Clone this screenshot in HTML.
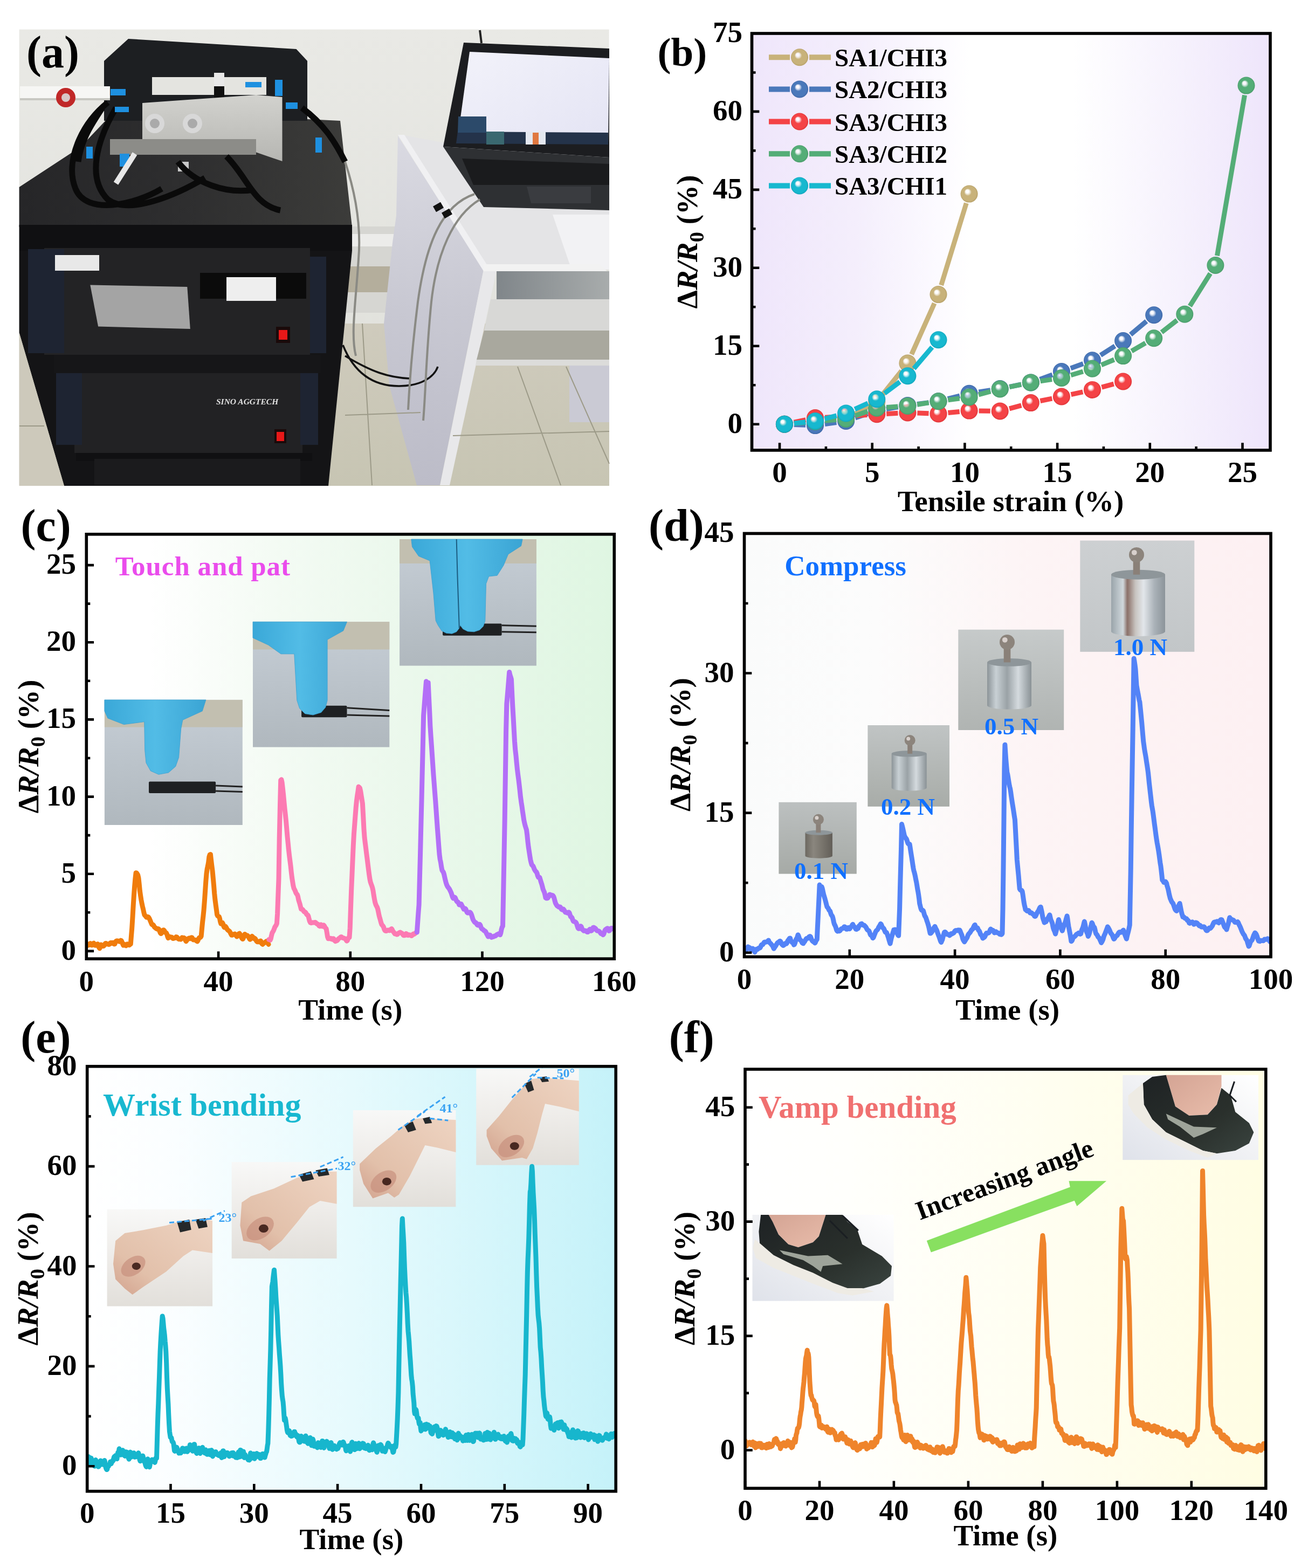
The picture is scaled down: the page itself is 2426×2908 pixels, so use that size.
<!DOCTYPE html>
<html><head><meta charset="utf-8"><title>Figure</title>
<style>
html,body{margin:0;padding:0;background:#fff;}
svg{display:block;}
text{font-family:'Liberation Serif','Times New Roman',serif;font-weight:bold;}
</style></head>
<body>
<svg width="2426" height="2908" viewBox="0 0 2426 2908">
<defs><linearGradient id="bgB" x1="0" y1="0" x2="1" y2="0"><stop offset="0" stop-color="#efe6fb"/><stop offset="0.2" stop-color="#f4eefc"/><stop offset="0.36" stop-color="#fcfaff"/><stop offset="0.42" stop-color="#ffffff"/><stop offset="0.62" stop-color="#ffffff"/><stop offset="0.8" stop-color="#f7f3fd"/><stop offset="1" stop-color="#eee5fb"/></linearGradient>
<radialGradient id="sph0" cx="0.5" cy="0.5" r="0.5" fx="0.37" fy="0.33"><stop offset="0" stop-color="#ffffff" stop-opacity="0.95"/><stop offset="0.16" stop-color="#ffffff" stop-opacity="0.6"/><stop offset="0.42" stop-color="#c8b27a"/><stop offset="0.85" stop-color="#c8b27a"/><stop offset="1" stop-color="#b8a26a"/></radialGradient>
<radialGradient id="sph1" cx="0.5" cy="0.5" r="0.5" fx="0.37" fy="0.33"><stop offset="0" stop-color="#ffffff" stop-opacity="0.95"/><stop offset="0.16" stop-color="#ffffff" stop-opacity="0.6"/><stop offset="0.42" stop-color="#4a78ba"/><stop offset="0.85" stop-color="#4a78ba"/><stop offset="1" stop-color="#4068a8"/></radialGradient>
<radialGradient id="sph2" cx="0.5" cy="0.5" r="0.5" fx="0.37" fy="0.33"><stop offset="0" stop-color="#ffffff" stop-opacity="0.95"/><stop offset="0.16" stop-color="#ffffff" stop-opacity="0.6"/><stop offset="0.42" stop-color="#f44346"/><stop offset="0.85" stop-color="#f44346"/><stop offset="1" stop-color="#e03438"/></radialGradient>
<radialGradient id="sph3" cx="0.5" cy="0.5" r="0.5" fx="0.37" fy="0.33"><stop offset="0" stop-color="#ffffff" stop-opacity="0.95"/><stop offset="0.16" stop-color="#ffffff" stop-opacity="0.6"/><stop offset="0.42" stop-color="#54ad77"/><stop offset="0.85" stop-color="#54ad77"/><stop offset="1" stop-color="#4a9c6a"/></radialGradient>
<radialGradient id="sph4" cx="0.5" cy="0.5" r="0.5" fx="0.37" fy="0.33"><stop offset="0" stop-color="#ffffff" stop-opacity="0.95"/><stop offset="0.16" stop-color="#ffffff" stop-opacity="0.6"/><stop offset="0.42" stop-color="#17b8cf"/><stop offset="0.85" stop-color="#17b8cf"/><stop offset="1" stop-color="#12a6bc"/></radialGradient>
<linearGradient id="bgC" x1="0" y1="0" x2="1" y2="0"><stop offset="0" stop-color="#ffffff"/><stop offset="0.12" stop-color="#ffffff"/><stop offset="0.35" stop-color="#f4fbf4"/><stop offset="0.6" stop-color="#ebf8ec"/><stop offset="1" stop-color="#dff6e2"/></linearGradient>
<linearGradient id="tbl" x1="0" y1="0" x2="0" y2="1"><stop offset="0" stop-color="#c6ced6"/><stop offset="1" stop-color="#b0b8be"/></linearGradient>
<linearGradient id="glove" x1="0" y1="0" x2="1" y2="0"><stop offset="0" stop-color="#3aa8d8"/><stop offset="0.5" stop-color="#52bce6"/><stop offset="1" stop-color="#3aa4d4"/></linearGradient>
<clipPath id="clp1"><rect x="160.3" y="990.8" width="979" height="787.4"/></clipPath>
<clipPath id="clp2"><rect x="160.3" y="990.8" width="979" height="787.4"/></clipPath>
<clipPath id="clp3"><rect x="160.3" y="990.8" width="979" height="787.4"/></clipPath>
<linearGradient id="bgD" x1="0" y1="0" x2="1" y2="0"><stop offset="0" stop-color="#fafbfb"/><stop offset="0.25" stop-color="#fcfcfc"/><stop offset="0.55" stop-color="#fdf4f5"/><stop offset="1" stop-color="#fdf0f2"/></linearGradient>
<linearGradient id="wbg1" x1="0" y1="0" x2="0" y2="1"><stop offset="0" stop-color="#bcc0c0"/><stop offset="1" stop-color="#a6aaa6"/></linearGradient>
<linearGradient id="wbg2" x1="0" y1="0" x2="0" y2="1"><stop offset="0" stop-color="#c0c4c4"/><stop offset="1" stop-color="#a8aca8"/></linearGradient>
<linearGradient id="wbg3" x1="0" y1="0" x2="0" y2="1"><stop offset="0" stop-color="#c6caca"/><stop offset="1" stop-color="#b0b4b2"/></linearGradient>
<linearGradient id="wbg4" x1="0" y1="0" x2="0" y2="1"><stop offset="0" stop-color="#cdd0d2"/><stop offset="1" stop-color="#c2c6c8"/></linearGradient>
<linearGradient id="silver" x1="0" y1="0" x2="1" y2="0"><stop offset="0" stop-color="#8c9498"/><stop offset="0.2" stop-color="#c8d0d4"/><stop offset="0.45" stop-color="#9aa2a6"/><stop offset="0.7" stop-color="#d4dade"/><stop offset="1" stop-color="#8a9296"/></linearGradient>
<linearGradient id="rough" x1="0" y1="0" x2="1" y2="0"><stop offset="0" stop-color="#6c6860"/><stop offset="0.3" stop-color="#8a867e"/><stop offset="0.6" stop-color="#7a766e"/><stop offset="1" stop-color="#625e58"/></linearGradient>
<linearGradient id="shiny" x1="0" y1="0" x2="1" y2="0"><stop offset="0" stop-color="#9aa4aa"/><stop offset="0.22" stop-color="#d0d8dc"/><stop offset="0.3" stop-color="#8a7068"/><stop offset="0.45" stop-color="#c8c4c0"/><stop offset="0.6" stop-color="#e2e6ea"/><stop offset="0.8" stop-color="#aab2b8"/><stop offset="1" stop-color="#8c949a"/></linearGradient>
<clipPath id="clp4"><rect x="1380.5" y="989.4" width="976.5" height="785.1"/></clipPath>
<linearGradient id="bgE" x1="0" y1="0" x2="1" y2="0"><stop offset="0" stop-color="#ffffff"/><stop offset="0.15" stop-color="#fbfeff"/><stop offset="0.5" stop-color="#e6fafd"/><stop offset="1" stop-color="#c5f2f9"/></linearGradient>
<linearGradient id="hbg" x1="0" y1="0" x2="0" y2="1"><stop offset="0" stop-color="#f8f8f7"/><stop offset="0.5" stop-color="#eeece9"/><stop offset="1" stop-color="#e2dfda"/></linearGradient>
<linearGradient id="skin" x1="0" y1="1" x2="1" y2="0"><stop offset="0" stop-color="#d2a28e"/><stop offset="0.3" stop-color="#e2c0aa"/><stop offset="1" stop-color="#eed4c2"/></linearGradient>
<clipPath id="clp5"><rect x="161.7" y="1977.7" width="980.5" height="788"/></clipPath>
<linearGradient id="bgF" x1="0" y1="0" x2="1" y2="0"><stop offset="0" stop-color="#ffffff"/><stop offset="0.2" stop-color="#fffffc"/><stop offset="1" stop-color="#fffde3"/></linearGradient>
<linearGradient id="sbg" x1="0" y1="1" x2="1" y2="0"><stop offset="0" stop-color="#dfe2ea"/><stop offset="0.5" stop-color="#f0f1f4"/><stop offset="1" stop-color="#ffffff"/></linearGradient>
<linearGradient id="shoe" x1="0" y1="0" x2="1" y2="1"><stop offset="0" stop-color="#1e2224"/><stop offset="0.6" stop-color="#2a302c"/><stop offset="1" stop-color="#3a4440"/></linearGradient>
<linearGradient id="skin2" x1="0" y1="0" x2="1" y2="1"><stop offset="0" stop-color="#d4a494"/><stop offset="1" stop-color="#e8bcaa"/></linearGradient>
<clipPath id="clp6"><rect x="1382" y="1983" width="965.8" height="777.2"/></clipPath>
<linearGradient id="wall" x1="0" y1="0" x2="0" y2="1"><stop offset="0" stop-color="#e9e9e5"/><stop offset="1" stop-color="#dedfd9"/></linearGradient>
<linearGradient id="floor" x1="0" y1="0" x2="0" y2="1"><stop offset="0" stop-color="#cfcbbd"/><stop offset="1" stop-color="#c7c5b3"/></linearGradient>
<linearGradient id="deskside" x1="0" y1="0" x2="0" y2="1"><stop offset="0" stop-color="#dadae2"/><stop offset="0.5" stop-color="#c8c8d2"/><stop offset="1" stop-color="#bcbcc8"/></linearGradient>
<linearGradient id="screen" x1="0" y1="0" x2="1" y2="1"><stop offset="0" stop-color="#f2f2fa"/><stop offset="1" stop-color="#e4e4f4"/></linearGradient>
<linearGradient id="drawer" x1="0" y1="0" x2="1" y2="0"><stop offset="0" stop-color="#80868a"/><stop offset="1" stop-color="#a8acac"/></linearGradient>
<linearGradient id="plate" x1="0" y1="0" x2="0" y2="1"><stop offset="0" stop-color="#d2d2ce"/><stop offset="1" stop-color="#b6b6b2"/></linearGradient>
<linearGradient id="ctop" x1="0" y1="0" x2="1" y2="0"><stop offset="0" stop-color="#262628"/><stop offset="0.5" stop-color="#2e2e2f"/><stop offset="1" stop-color="#3c3c3a"/></linearGradient></defs>
<rect width="2426" height="2908" fill="#fff"/>
<rect x="35.6" y="54.6" width="1094" height="845.9" fill="url(#wall)" />
<polygon points="36,600 1130,600 1130,901 36,901" fill="url(#floor)" />
<rect x="640" y="420" width="102" height="160" fill="#d6d6d2" />
<rect x="640" y="434" width="102" height="23" fill="#ececea" />
<rect x="640" y="494" width="102" height="48" fill="#b4ae9c" />
<polygon points="738,252 897,500 816,900 773,900 722,715 712,600 728,450 735,400" fill="url(#deskside)" />
<polygon points="897,500 921,502 834,900 816,900" fill="#e8e8ea" />
<polygon points="744,250 862,272 1130,282 1130,500 897,500" fill="#e4e4e6" />
<polygon points="738,250 750,250 905,494 897,503" fill="#f0f0f2" />
<polygon points="1025,398 1130,398 1130,500 1060,500" fill="#f2f2f4" />
<polygon points="897,490 1112,490 1126,503 897,503" fill="#f2f2f2" />
<rect x="921" y="503" width="209" height="52" fill="url(#drawer)" />
<polygon points="910,555 1130,555 1130,613 898,613" fill="#d8d8d6" />
<polygon points="898,613 1130,613 1130,667 884,667" fill="#a9a89e" />
<polygon points="884,667 1130,667 1130,678 882,678" fill="#dcdcda" />
<rect x="1056" y="678" width="74" height="105" fill="#cacad4" />
<path d="M36 790L120 785M640 770L780 765M840 808L1130 800M960 680L1040 900M1050 680L1130 860M672 600L690 900" stroke="#9c9a88" stroke-width="2" fill="none"/>
<polygon points="860,79 1130,90 1130,292 822,272" fill="#1c1d20" />
<polygon points="871,96 1130,108 1128,266 848,262" fill="url(#screen)" />
<polygon points="849,244 1128,246 1128,268 846,266" fill="#24334a" />
<polygon points="850,216 902,216 902,246 849,246" fill="#2c4a6a" />
<rect x="902" y="244" width="33" height="24" fill="#3a6870" />
<rect x="975" y="244" width="37" height="24" fill="#e4e8f0" />
<rect x="988" y="246" width="11" height="22" fill="#e07840" />
<polygon points="822,272 1130,292 1130,390 897,384" fill="#2e3033" />
<polygon points="857,294 1130,304 1130,343 878,343" fill="#1a1b1d" />
<polygon points="977,346 1096,346 1096,377 985,377" fill="#3a3c40" />
<path d="M890 56L893 80" stroke="#222" stroke-width="4"/>
<path d="M636 640C660 700 700 716 740 716C780 716 805 700 812 680M640 660C690 690 720 700 760 702" stroke="#121212" stroke-width="3.5" fill="none"/>
<path d="M880 360C820 380 790 450 775 560C765 640 760 700 757 760M890 370C840 400 810 470 800 560C790 660 790 720 785 780" stroke="#8a8a84" stroke-width="4" fill="none"/>
<path d="M820 380l-14 8M836 392l-14 8" stroke="#111" stroke-width="12"/>
<polygon points="35.6,347 150,272 203,216 570,221 631,224 653,421 35.6,421" fill="url(#ctop)" />
<polygon points="193,113 238,72 549.5,91 570,113 570,224 193,224" fill="#1d1f22" />
<rect x="282" y="143" width="212" height="33" fill="#e4e4e0" />
<rect x="397" y="135" width="19" height="67" fill="#101010" />
<rect x="397" y="135" width="19" height="25" fill="#e8e8e8" />
<polygon points="264,191 475,176 523.5,180 523.5,299 468,280 264,269" fill="url(#plate)" />
<polygon points="204,258 475,258 475,287 204,287" fill="#8c8c88" />
<circle cx="287" cy="229" r="18" fill="#d8d8d8"/><circle cx="357" cy="229" r="18" fill="#d8d8d8"/><circle cx="287" cy="229" r="9" fill="#aaa"/><circle cx="357" cy="229" r="9" fill="#aaa"/>
<rect x="330" y="300" width="20" height="18" fill="#c8c8c8" />
<path d="M200 190C150 230 120 300 140 350C160 400 250 380 300 350M215 200C180 260 160 330 200 370C240 400 330 360 380 330M420 290C460 330 470 380 520 390M560 200C600 230 620 260 640 300M190 200C170 230 150 260 145 300M330 300C360 340 420 360 470 352" stroke="#0a0a0a" stroke-width="11" fill="none"/>
<path d="M640 300C660 360 670 420 665 480C660 560 650 620 660 660" stroke="#8a8a84" stroke-width="4" fill="none"/>
<rect x="205" y="165" width="28" height="12" fill="#1e90e0" />
<rect x="213" y="198" width="26" height="10" fill="#1e90e0" />
<rect x="455" y="152" width="30" height="10" fill="#1e90e0" />
<rect x="510" y="148" width="14" height="30" fill="#1e90e0" />
<rect x="530" y="190" width="22" height="12" fill="#1e90e0" />
<rect x="222" y="285" width="18" height="24" fill="#1e90e0" />
<rect x="585" y="255" width="12" height="28" fill="#1e90e0" />
<rect x="160" y="272" width="12" height="22" fill="#1e90e0" />
<rect x="37" y="160" width="167" height="22" fill="#f6f6f4" />
<rect x="37" y="182" width="167" height="4" fill="#c8c8c2" />
<circle cx="122" cy="181" r="18" fill="#c02828"/><circle cx="122" cy="181" r="8" fill="#d8c8c8"/>
<path d="M250 285L215 340" stroke="#e8e8e8" stroke-width="10"/>
<polygon points="35.6,417 653,417 653,465 35.6,465" fill="#101012" />
<polygon points="35.6,465 653,465 609,901 119,901 35.6,617" fill="#141416" />
<rect x="82" y="460" width="493" height="198" fill="#232325" />
<rect x="52" y="462" width="67" height="193" fill="#1e2432" />
<rect x="575" y="476" width="30" height="179" fill="#1e2432" />
<polygon points="167.3,528.4 347.3,532.1 352.8,610 182.1,605.6" fill="#a4a4a4" />
<rect x="102" y="473" width="82" height="29" fill="#e8e8e8" />
<rect x="371" y="506" width="197" height="48" fill="#0b0b0b" />
<rect x="420" y="514" width="92" height="44" fill="#eeeeee" />
<rect x="512" y="606" width="26" height="30" fill="#1a0a0a" />
<rect x="517" y="612" width="16" height="18" fill="#e81818" />
<rect x="100.5" y="658" width="493.5" height="34" fill="#161618" />
<rect x="138" y="692" width="423" height="148" fill="#222224" />
<rect x="104" y="692" width="48" height="133" fill="#1e2432" />
<rect x="557" y="692" width="33" height="133" fill="#1e2432" />
<text x="401" y="750" font-size="15.5" font-style="italic" fill="#e0e0e0">SINO AGGTECH</text>
<rect x="509" y="796" width="22" height="26" fill="#1a0a0a" />
<rect x="513" y="801" width="14" height="17" fill="#e81818" />
<rect x="141" y="840" width="438" height="15" fill="#101012" />
<rect x="175" y="851" width="382" height="48" fill="#1b1b1d" />
<polygon points="35.6,617 119,901 35.6,901" fill="#cdc9bb" />
<path d="M36 790L82 790" stroke="#9c9a88" stroke-width="2"/>
<rect x="1394.5" y="62" width="961.5" height="773" fill="url(#bgB)"/>
<path d="M1472.9 785.2L1494.1 783.4M1530 780.3L1551.2 778.5M1584.9 768.2L1610.5 753.9M1637.5 731.1L1672.1 687.7M1690.7 657.2L1733.1 562.5M1745.7 528.9L1792.3 376.8" stroke="#c8b27a" stroke-width="9" fill="none" stroke-linecap="butt"/>
<circle cx="1454.9" cy="786.7" r="16" fill="url(#sph0)"/>
<circle cx="1512" cy="781.9" r="16" fill="url(#sph0)"/>
<circle cx="1569.1" cy="777" r="16" fill="url(#sph0)"/>
<circle cx="1626.3" cy="745.1" r="16" fill="url(#sph0)"/>
<circle cx="1683.4" cy="673.6" r="16" fill="url(#sph0)"/>
<circle cx="1740.5" cy="546.1" r="16" fill="url(#sph0)"/>
<circle cx="1797.6" cy="359.6" r="16" fill="url(#sph0)"/>
<path d="M1472.9 787.4L1494.1 788.3M1529.9 786.5L1551.3 783.5M1586.2 775.1L1609.2 767.3M1644 758.6L1665.6 754.9M1701.2 749.5L1722.6 746.6M1757.9 739.7L1780.1 734.1M1815.4 727L1836.9 723.7M1872.3 717.4L1894.1 713M1928.7 703.4L1951.9 695.1M1985.8 682.9L2009.1 674.5M2041.2 658.7L2067.9 641.7M2096.9 620.5L2126.4 595.8" stroke="#4a78ba" stroke-width="9" fill="none" stroke-linecap="butt"/>
<circle cx="1454.9" cy="786.7" r="16" fill="url(#sph1)"/>
<circle cx="1512" cy="789.1" r="16" fill="url(#sph1)"/>
<circle cx="1569.1" cy="780.9" r="16" fill="url(#sph1)"/>
<circle cx="1626.3" cy="761.6" r="16" fill="url(#sph1)"/>
<circle cx="1683.4" cy="751.9" r="16" fill="url(#sph1)"/>
<circle cx="1740.5" cy="744.2" r="16" fill="url(#sph1)"/>
<circle cx="1797.6" cy="729.7" r="16" fill="url(#sph1)"/>
<circle cx="1854.7" cy="721" r="16" fill="url(#sph1)"/>
<circle cx="1911.8" cy="709.4" r="16" fill="url(#sph1)"/>
<circle cx="1968.9" cy="689.1" r="16" fill="url(#sph1)"/>
<circle cx="2026" cy="668.3" r="16" fill="url(#sph1)"/>
<circle cx="2083.1" cy="632.1" r="16" fill="url(#sph1)"/>
<circle cx="2140.2" cy="584.3" r="16" fill="url(#sph1)"/>
<path d="M1472.6 783.1L1494.4 778.7M1530 774.2L1551.2 773.1M1587.1 771L1608.3 769.5M1644.2 767.4L1665.4 766.3M1701.4 766L1722.5 766.8M1758.4 765.5L1779.7 763.4M1815.6 761.9L1836.7 762.2M1872.1 757.8L1894.4 751.8M1929.4 743.5L1951.3 739.1M1986.5 731.6L2008.4 726.8M2043.4 718.2L2065.7 712.2" stroke="#f44346" stroke-width="9" fill="none" stroke-linecap="butt"/>
<circle cx="1454.9" cy="786.7" r="16" fill="url(#sph2)"/>
<circle cx="1512" cy="775.1" r="16" fill="url(#sph2)"/>
<circle cx="1569.1" cy="772.2" r="16" fill="url(#sph2)"/>
<circle cx="1626.3" cy="768.3" r="16" fill="url(#sph2)"/>
<circle cx="1683.4" cy="765.4" r="16" fill="url(#sph2)"/>
<circle cx="1740.5" cy="767.4" r="16" fill="url(#sph2)"/>
<circle cx="1797.6" cy="761.6" r="16" fill="url(#sph2)"/>
<circle cx="1854.7" cy="762.5" r="16" fill="url(#sph2)"/>
<circle cx="1911.8" cy="747.1" r="16" fill="url(#sph2)"/>
<circle cx="1968.9" cy="735.5" r="16" fill="url(#sph2)"/>
<circle cx="2026" cy="722.9" r="16" fill="url(#sph2)"/>
<circle cx="2083.1" cy="707.5" r="16" fill="url(#sph2)"/>
<path d="M1472.9 785.2L1494.1 783.4M1530 780.3L1551.2 778.5M1586.1 771L1609.3 762.8M1644.2 755.5L1665.4 754.1M1701.2 750.2L1722.7 746.9M1758.3 741.8L1779.7 738.9M1815 731.9L1837.3 726M1872.3 717.7L1894.2 713.1M1929.6 706.8L1951.1 703.6M1986.1 695.8L2008.8 689M2042.6 676.9L2066.5 667M2098.7 651.1L2124.6 636.2M2154.4 616.2L2183.1 593.9M2206.9 567.6L2244.8 507.2M2257.5 474.2L2308.5 176.4" stroke="#54ad77" stroke-width="9" fill="none" stroke-linecap="butt"/>
<circle cx="1454.9" cy="786.7" r="16" fill="url(#sph3)"/>
<circle cx="1512" cy="781.9" r="16" fill="url(#sph3)"/>
<circle cx="1569.1" cy="777" r="16" fill="url(#sph3)"/>
<circle cx="1626.3" cy="756.7" r="16" fill="url(#sph3)"/>
<circle cx="1683.4" cy="752.9" r="16" fill="url(#sph3)"/>
<circle cx="1740.5" cy="744.2" r="16" fill="url(#sph3)"/>
<circle cx="1797.6" cy="736.4" r="16" fill="url(#sph3)"/>
<circle cx="1854.7" cy="721.5" r="16" fill="url(#sph3)"/>
<circle cx="1911.8" cy="709.4" r="16" fill="url(#sph3)"/>
<circle cx="1968.9" cy="701" r="16" fill="url(#sph3)"/>
<circle cx="2026" cy="683.8" r="16" fill="url(#sph3)"/>
<circle cx="2083.1" cy="660.1" r="16" fill="url(#sph3)"/>
<circle cx="2140.2" cy="627.3" r="16" fill="url(#sph3)"/>
<circle cx="2197.3" cy="582.8" r="16" fill="url(#sph3)"/>
<circle cx="2254.4" cy="492" r="16" fill="url(#sph3)"/>
<circle cx="2311.5" cy="158.6" r="16" fill="url(#sph3)"/>
<path d="M1472.8 784.9L1494.1 782.7M1529.5 776.5L1551.7 770.8M1585.5 758.9L1609.9 747.8M1640.6 729.5L1669 708.1M1695 683.5L1728.8 643.9" stroke="#17b8cf" stroke-width="9" fill="none" stroke-linecap="butt"/>
<circle cx="1454.9" cy="786.7" r="16" fill="url(#sph4)"/>
<circle cx="1512" cy="780.9" r="16" fill="url(#sph4)"/>
<circle cx="1569.1" cy="766.4" r="16" fill="url(#sph4)"/>
<circle cx="1626.3" cy="740.3" r="16" fill="url(#sph4)"/>
<circle cx="1683.4" cy="697.2" r="16" fill="url(#sph4)"/>
<circle cx="1740.5" cy="630.2" r="16" fill="url(#sph4)"/>
<path d="M1426 106.2H1465M1501 106.2H1541" stroke="#c8b27a" stroke-width="10"/>
<circle cx="1483" cy="106.2" r="16" fill="url(#sph0)"/>
<text x="1548" y="123.2" font-size="47">SA1/CHI3</text>
<path d="M1426 165.4H1465M1501 165.4H1541" stroke="#4a78ba" stroke-width="10"/>
<circle cx="1483" cy="165.4" r="16" fill="url(#sph1)"/>
<text x="1548" y="182.4" font-size="47">SA2/CHI3</text>
<path d="M1426 225.5H1465M1501 225.5H1541" stroke="#f44346" stroke-width="10"/>
<circle cx="1483" cy="225.5" r="16" fill="url(#sph2)"/>
<text x="1548" y="242.5" font-size="47">SA3/CHI3</text>
<path d="M1426 285.2H1465M1501 285.2H1541" stroke="#54ad77" stroke-width="10"/>
<circle cx="1483" cy="285.2" r="16" fill="url(#sph3)"/>
<text x="1548" y="302.2" font-size="47">SA3/CHI2</text>
<path d="M1426 344.4H1465M1501 344.4H1541" stroke="#17b8cf" stroke-width="10"/>
<circle cx="1483" cy="344.4" r="16" fill="url(#sph4)"/>
<text x="1548" y="361.4" font-size="47">SA3/CHI1</text>
<rect x="1394.5" y="62" width="961.5" height="773" fill="none" stroke="#000" stroke-width="5.6"/>
<path d="M1446 835V821.2M1617.7 835V821.2M1789.4 835V821.2M1961.1 835V821.2M2132.8 835V821.2M2304.5 835V821.2M1531.9 835V828M1703.6 835V828M1875.2 835V828M2046.9 835V828M2218.6 835V828M1394.5 786.7H1408.3M1394.5 641.8H1408.3M1394.5 496.8H1408.3M1394.5 351.9H1408.3M1394.5 206.9H1408.3M1394.5 714.2H1401.5M1394.5 569.3H1401.5M1394.5 424.3H1401.5M1394.5 279.4H1401.5M1394.5 134.5H1401.5" stroke="#000" stroke-width="4.6" fill="none"/>
<text x="1446" y="894" text-anchor="middle" font-size="55">0</text>
<text x="1617.7" y="894" text-anchor="middle" font-size="55">5</text>
<text x="1789.4" y="894" text-anchor="middle" font-size="55">10</text>
<text x="1961.1" y="894" text-anchor="middle" font-size="55">15</text>
<text x="2132.8" y="894" text-anchor="middle" font-size="55">20</text>
<text x="2304.5" y="894" text-anchor="middle" font-size="55">25</text>
<text x="1377" y="802.6" text-anchor="end" font-size="55">0</text>
<text x="1377" y="657.7" text-anchor="end" font-size="55">15</text>
<text x="1377" y="512.8" text-anchor="end" font-size="55">30</text>
<text x="1377" y="367.8" text-anchor="end" font-size="55">45</text>
<text x="1377" y="222.9" text-anchor="end" font-size="55">60</text>
<text x="1377" y="78" text-anchor="end" font-size="55">75</text>
<text transform="translate(1293 448.5) rotate(-90)" text-anchor="middle" font-size="55">&#916;<tspan font-style="italic">R</tspan><tspan font-style="italic">/R</tspan><tspan font-size="38.5" dy="12.1">0</tspan><tspan dy="-12.1"> (%)</tspan></text>
<text x="1874.5" y="948" text-anchor="middle" font-size="55">Tensile strain (%)</text>
<rect x="160.3" y="990.8" width="979.0" height="787.4000000000001" fill="url(#bgC)"/>
<rect x="193.9" y="1297.9" width="255.9" height="232.1" fill="url(#tbl)" />
<rect x="193.9" y="1297.9" width="255.9" height="50.7" fill="#c2bfb0" />
<rect x="276" y="1449.5" width="124.1" height="21.5" fill="#1e2022" rx="2"/>
<path d="M400.1 1457.1L449.8 1459.1" stroke="#222" stroke-width="3"/>
<path d="M400.1 1467.1L449.8 1468.4" stroke="#222" stroke-width="3"/>
<polygon points="193.9,1297.9 381.9,1297.9 375.3,1318.8 338.9,1335.3 335.6,1351.9 331.6,1404.8 325.7,1421.4 312.4,1433 294.2,1436.3 279.3,1429.7 271,1414.8 268.7,1391.6 267.7,1338.6 229.7,1343.6 199.9,1332 193.9,1318.8" fill="url(#glove)" stroke="#3aa0d0" stroke-width="0.8" stroke-linejoin="round"/>
<rect x="469" y="1153.2" width="253.3" height="232.4" fill="url(#tbl)" />
<rect x="469" y="1153.2" width="253.3" height="51.3" fill="#c2bfb0" />
<rect x="559.1" y="1308.8" width="84.4" height="21.5" fill="#1e2022" rx="2"/>
<path d="M643.5 1312.8L722.3 1317.4" stroke="#222" stroke-width="3"/>
<path d="M643.5 1326L722.3 1328" stroke="#222" stroke-width="3"/>
<polygon points="469,1153.2 643.5,1153.2 636.8,1169.8 607.1,1186.3 607.1,1298.9 603.7,1312.1 595.5,1321.4 580.6,1326 565.7,1323.7 555.7,1313.8 550.8,1298.9 545.8,1212.8 521,1212.8 497.8,1196.3 469,1183" fill="url(#glove)" stroke="#3aa0d0" stroke-width="0.8" stroke-linejoin="round"/>
<rect x="741.1" y="1000" width="253.8" height="234.6" fill="url(#tbl)" />
<rect x="741.1" y="1000" width="253.8" height="45" fill="#c2bfb0" />
<rect x="821" y="1156.4" width="109.6" height="22.3" fill="#1e2022" rx="2"/>
<path d="M930.6 1159.8L994.8 1161.2" stroke="#222" stroke-width="3"/>
<path d="M930.6 1171.8L994.8 1172.8" stroke="#222" stroke-width="3"/>
<polygon points="762.8,1000 969.1,1000 966.6,1012.5 942.6,1027.9 934,1048.5 922.1,1067.3 906.6,1069 901.5,1082.7 899.8,1151.2 896.4,1161.5 889.5,1168.4 879.2,1171.8 867.3,1170.9 858.7,1166.6 853.6,1159.8 851.8,1164.9 846.7,1171.8 838.2,1175.2 827.9,1174.3 819.3,1170.1 812.5,1159.8 808.2,1151.2 803.9,1099.9 797.1,1039.9 776.5,1031.4 764.5,1014.2" fill="url(#glove)" stroke="#3aa0d0" stroke-width="0.8" stroke-linejoin="round"/>
<polyline points="846.7,1000 848.4,1065.6 851.8,1164.9" fill="none" stroke="#1c5c80" stroke-width="2"/>
<path d="M160.3 1754.9 161.5 1751.9 162.7 1751 164 1752.3 165.2 1752.6 166.4 1751.1 167.6 1749.6 168.9 1750.5 170.1 1752.9 171.3 1752.8 172.5 1749.8 173.8 1749.1 175 1751.1 176.2 1753.2 177.4 1753.3 178.7 1752.5 179.9 1751.6 181.1 1750.7 182.3 1752.6 183.6 1757.3 184.8 1758.9 186 1754.9 187.2 1752 188.4 1752.8 189.7 1754.3 190.9 1754.8 192.1 1754.6 193.3 1753.1 194.6 1750.6 195.8 1749.4 197 1749.7 198.2 1750.9 199.5 1750.9 200.7 1750.9 201.9 1751.6 203.1 1751.1 204.4 1749 205.6 1748.3 206.8 1749.5 208 1749.5 209.2 1748.2 210.5 1748.5 211.7 1750.9 212.9 1750.8 214.1 1747.8 215.4 1745.3 216.6 1744.8 217.8 1745.1 219 1745 220.3 1745.6 221.5 1746.2 222.7 1745.5 223.9 1744.1 225.2 1744.7 226.4 1747.3 227.6 1750.8 228.8 1753.2 230.1 1752.9 231.3 1751.7 232.5 1752.7 233.7 1754 234.9 1752.5 236.2 1750.8 237.4 1751.1 238.6 1752.5 239.8 1752.8 241.1 1751.6 242.3 1750.8 243.5 1735.9 244.7 1721.7 246 1700.8 247.2 1679.6 248.4 1660.8 249.6 1644.3 250.9 1629.5 252.1 1618.8 253.3 1618.9 254.5 1620.7 255.8 1623.2 257 1628.6 258.2 1639.6 259.4 1652.2 260.6 1660.7 261.9 1669 263.1 1675.3 264.3 1681 265.5 1685.9 266.8 1692.2 268 1696.8 269.2 1698.1 270.4 1699.2 271.7 1701.2 272.9 1701.2 274.1 1700.2 275.3 1700.8 276.6 1702.7 277.8 1705.3 279 1708.2 280.2 1711.2 281.5 1714.2 282.7 1715.3 283.9 1715 285.1 1716.5 286.3 1719.2 287.6 1720.3 288.8 1721 290 1722.2 291.2 1722.9 292.5 1722.5 293.7 1722.4 294.9 1723.8 296.1 1727.1 297.4 1730.4 298.6 1731.6 299.8 1730.3 301 1727.5 302.3 1725.2 303.5 1724.7 304.7 1725.8 305.9 1728 307.1 1729.7 308.4 1730.2 309.6 1732.5 310.8 1736.9 312 1739.7 313.3 1738.7 314.5 1737.2 315.7 1737.7 316.9 1738.3 318.2 1737.9 319.4 1738.8 320.6 1740.5 321.8 1740.5 323.1 1739.7 324.3 1739.7 325.5 1738.9 326.7 1737.6 328 1737.9 329.2 1739.3 330.4 1740.8 331.6 1741.7 332.8 1741.5 334.1 1741.5 335.3 1742.1 336.5 1740.9 337.7 1738.8 339 1739.1 340.2 1740 341.4 1739.4 342.6 1740.2 343.9 1743.7 345.1 1745.8 346.3 1744.3 347.5 1742.3 348.8 1741.3 350 1740.1 351.2 1739.8 352.4 1740.8 353.7 1740.7 354.9 1738.8 356.1 1738.8 357.3 1741.3 358.5 1743.1 359.8 1743 361 1742.9 362.2 1743.3 363.4 1743.9 364.7 1745.1 365.9 1746 367.1 1744.2 368.3 1741 369.6 1739 370.8 1739 372 1738.1 373.2 1736.1 374.5 1722 375.7 1709.5 376.9 1699.4 378.1 1687.2 379.4 1670.5 380.6 1652.6 381.8 1634.7 383 1620.3 384.2 1611.5 385.5 1605.7 386.7 1599 387.9 1589.1 389.1 1585.2 390.4 1584.5 391.6 1595.2 392.8 1605.4 394 1614.5 395.3 1628.3 396.5 1641.6 397.7 1656.7 398.9 1668.4 400.2 1678.3 401.4 1686.8 402.6 1696.3 403.8 1698.6 405.1 1699.5 406.3 1699.9 407.5 1703.5 408.7 1709.7 409.9 1713.3 411.2 1712.8 412.4 1711.2 413.6 1713.2 414.8 1717.6 416.1 1720 417.3 1719.1 418.5 1718.4 419.7 1720.2 421 1722.8 422.2 1724.5 423.4 1725.5 424.6 1726.4 425.9 1727.5 427.1 1729.5 428.3 1732.1 429.5 1734.2 430.7 1734.2 432 1732.9 433.2 1732.7 434.4 1732.5 435.6 1732.1 436.9 1733.3 438.1 1735.5 439.3 1737 440.5 1735.9 441.8 1733.5 443 1731.6 444.2 1731.1 445.4 1733 446.7 1736.2 447.9 1738.7 449.1 1740.7 450.3 1741.6 451.6 1739.1 452.8 1734.8 454 1732.5 455.2 1733.5 456.4 1735.1 457.7 1735.2 458.9 1735.1 460.1 1736.2 461.3 1738.5 462.6 1741 463.8 1742.2 465 1740.4 466.2 1737.5 467.5 1736.4 468.7 1737.4 469.9 1739.8 471.1 1740.8 472.4 1740.1 473.6 1741.1 474.8 1743.7 476 1745.6 477.3 1746.8 478.5 1746.6 479.7 1746.1 480.9 1746.9 482.1 1746.3 483.4 1745 484.6 1746.7 485.8 1750.2 487 1751.3 488.3 1750 489.5 1748.9 490.7 1748.4 491.9 1747.6 493.2 1746.4 494.4 1745.5 495.6 1746.1 496.8 1749.1 498.1 1751.4" fill="none" stroke="#f07c0c" stroke-width="9" stroke-linejoin="round" stroke-linecap="round" clip-path="url(#clp1)"/>
<path d="M498.7 1742.5 499.9 1742.6 501.1 1743.5 502.3 1740.8 503.6 1734.8 504.8 1730.1 506 1728.1 507.2 1726.2 508.5 1722.9 509.7 1719.5 510.9 1717.6 512.1 1715.9 513.4 1712.7 514.6 1694.5 515.8 1661.9 517 1630.1 518.2 1554.2 519.5 1493.8 520.7 1447 521.9 1445.7 523.1 1451.1 524.4 1462.2 525.6 1473.4 526.8 1486.3 528 1498.9 529.3 1510.4 530.5 1522.4 531.7 1536.2 532.9 1550.4 534.2 1563.5 535.4 1575.7 536.6 1586.5 537.8 1595.8 539.1 1606.1 540.3 1617.6 541.5 1627.5 542.7 1635.2 543.9 1642.7 545.2 1647.8 546.4 1649.8 547.6 1652.4 548.8 1655.7 550.1 1657.9 551.3 1659 552.5 1662.7 553.7 1668.6 555 1672.8 556.2 1676.6 557.4 1681.5 558.6 1686 559.9 1686.4 561.1 1686.7 562.3 1688.1 563.5 1690.1 564.7 1691.3 566 1691.5 567.2 1692.8 568.4 1695.3 569.6 1696.6 570.9 1697 572.1 1699.7 573.3 1704.7 574.5 1708.9 575.8 1711.2 577 1711.7 578.2 1711.4 579.4 1711.1 580.7 1711 581.9 1711.1 583.1 1710.8 584.3 1710.4 585.6 1711 586.8 1712.6 588 1713.4 589.2 1713.6 590.4 1714.9 591.7 1717 592.9 1717.7 594.1 1715.9 595.3 1714.8 596.6 1716.5 597.8 1718 599 1717 600.2 1715.8 601.5 1717.1 602.7 1719.5 603.9 1721.3 605.1 1722.4 606.4 1730 607.6 1737.5 608.8 1740.8 610 1740.5 611.3 1740.8 612.5 1740.4 613.7 1740.2 614.9 1741.7 616.1 1742.1 617.4 1740.8 618.6 1740.7 619.8 1742.6 621 1744.8 622.3 1745.7 623.5 1745.2 624.7 1744.5 625.9 1744 627.2 1741.9 628.4 1740.6 629.6 1739.9 630.8 1738.9 632.1 1737.6 633.3 1737.4 634.5 1738.8 635.7 1739.6 637 1739.4 638.2 1740.2 639.4 1740.7 640.6 1740.9 641.8 1743.1 643.1 1745.2 644.3 1744.3 645.5 1741 646.7 1738.8 648 1738.5 649.2 1721.5 650.4 1686 651.6 1652.8 652.9 1623.3 654.1 1595 655.3 1567.9 656.5 1545.9 657.8 1528.9 659 1513 660.2 1497.7 661.4 1485.4 662.6 1476.3 663.9 1468 665.1 1459.1 666.3 1460.1 667.5 1461.7 668.8 1467.4 670 1475.2 671.2 1482.5 672.4 1490.1 673.7 1513.6 674.9 1536.7 676.1 1553.3 677.3 1563.1 678.6 1573.3 679.8 1583.2 681 1592.4 682.2 1602.3 683.5 1612.6 684.7 1621.9 685.9 1630 687.1 1635.7 688.3 1639.2 689.6 1642.7 690.8 1646.5 692 1651.9 693.2 1660.1 694.5 1667.5 695.7 1673.6 696.9 1677.4 698.1 1680 699.4 1682.3 700.6 1685.8 701.8 1691.3 703 1697.3 704.3 1702.3 705.5 1706.3 706.7 1711 707.9 1714.4 709.2 1716.1 710.4 1717.5 711.6 1719.6 712.8 1723.6 714 1725.7 715.3 1726.6 716.5 1726.5 717.7 1725.8 718.9 1725 720.2 1725.1 721.4 1725.6 722.6 1725.8 723.8 1725.1 725.1 1723.2 726.3 1722.4 727.5 1724.4 728.7 1726.9 730 1728.5 731.2 1730.2 732.4 1731.9 733.6 1731.9 734.9 1732 736.1 1733.1 737.3 1732.8 738.5 1731.2 739.7 1730.5 741 1729.6 742.2 1729 743.4 1729.8 744.6 1730.6 745.9 1731 747.1 1733 748.3 1734.7 749.5 1734.8 750.8 1734.7 752 1733.3 753.2 1731.4 754.4 1732.2 755.7 1734.3 756.9 1734.5 758.1 1733.8 759.3 1733.8 760.5 1734.1 761.8 1734.7 763 1735.5 764.2 1735 765.4 1733 766.7 1732 767.9 1732.6 769.1 1731.9 770.3 1730.8 771.6 1729.5 772.8 1728.2" fill="none" stroke="#fc7ab2" stroke-width="9" stroke-linejoin="round" stroke-linecap="round" clip-path="url(#clp2)"/>
<path d="M773.4 1729 774.6 1711.8 775.8 1694.5 777.1 1677.8 778.3 1631.5 779.5 1586.3 780.7 1536.7 782 1483.8 783.2 1432.2 784.4 1380.1 785.6 1326.9 786.9 1309.8 788.1 1293.9 789.3 1278.6 790.5 1263.8 791.8 1265.9 793 1265.9 794.2 1266 795.4 1292 796.7 1318.8 797.9 1346.5 799.1 1365.1 800.3 1382.1 801.5 1399.9 802.8 1419.3 804 1437 805.2 1452.5 806.4 1468.5 807.7 1485 808.9 1501.7 810.1 1519.1 811.3 1535.9 812.6 1553 813.8 1569.2 815 1584.3 816.2 1593.6 817.5 1599.6 818.7 1607.7 819.9 1613.8 821.1 1615.9 822.3 1617.5 823.6 1621.5 824.8 1627 826 1632.2 827.2 1636.9 828.5 1640.8 829.7 1643.5 830.9 1645.4 832.1 1646.8 833.4 1648.6 834.6 1651 835.8 1653.5 837 1656.2 838.3 1660.3 839.5 1663.9 840.7 1666.1 841.9 1665.1 843.2 1663.9 844.4 1665.3 845.6 1668.2 846.8 1671 848 1672.5 849.3 1672.9 850.5 1674.8 851.7 1677.9 852.9 1678.3 854.2 1676.4 855.4 1676.5 856.6 1679.2 857.8 1681.3 859.1 1683.8 860.3 1686.3 861.5 1686.2 862.7 1684.9 864 1686.2 865.2 1689.7 866.4 1692.2 867.6 1693.1 868.9 1693.1 870.1 1692.4 871.3 1691.8 872.5 1692.4 873.7 1694.5 875 1697.7 876.2 1702 877.4 1705.5 878.6 1707.6 879.9 1709.7 881.1 1711 882.3 1710.9 883.5 1712.1 884.8 1714.9 886 1715.9 887.2 1715.1 888.4 1714.3 889.7 1714.2 890.9 1716 892.1 1719.6 893.3 1722.2 894.5 1723.1 895.8 1723.8 897 1725.1 898.2 1726.2 899.4 1726.6 900.7 1727.7 901.9 1730.3 903.1 1732.7 904.3 1734.9 905.6 1737.1 906.8 1736.1 908 1734.1 909.2 1734.4 910.5 1736.8 911.7 1738.4 912.9 1737.9 914.1 1737.4 915.4 1737.2 916.6 1736.1 917.8 1735.6 919 1735.9 920.2 1734.9 921.5 1733.4 922.7 1732.9 923.9 1732.4 925.1 1731.7 926.4 1732.8 927.6 1733.8 928.8 1730.5 930 1724 931.3 1719.4 932.5 1717.7 933.7 1655.1 934.9 1591.6 936.2 1519.3 937.4 1437.5 938.6 1354.9 939.8 1305.5 941.1 1290.5 942.3 1276 943.5 1261 944.7 1246.4 945.9 1251.7 947.2 1255.6 948.4 1259.8 949.6 1284.9 950.8 1309.2 952.1 1331.3 953.3 1353.4 954.5 1375 955.7 1390.3 957 1401.6 958.2 1414.5 959.4 1426.4 960.6 1436.2 961.9 1445.9 963.1 1456 964.3 1466.8 965.5 1478.2 966.8 1487.7 968 1495.2 969.2 1504.1 970.4 1512 971.6 1520.4 972.9 1526.7 974.1 1531.4 975.3 1535.3 976.5 1539 977.8 1549.1 979 1561.1 980.2 1571 981.4 1578.7 982.7 1587.3 983.9 1594.6 985.1 1599.7 986.3 1603.8 987.6 1605.1 988.8 1606.2 990 1609.1 991.2 1612.3 992.5 1614.5 993.7 1616.1 994.9 1617.3 996.1 1619.8 997.3 1624.2 998.6 1627 999.8 1626.8 1001 1627.6 1002.2 1631.5 1003.5 1636 1004.7 1639.4 1005.9 1643.9 1007.1 1649 1008.4 1652.1 1009.6 1654.7 1010.8 1659.2 1012 1665 1013.3 1665.8 1014.5 1665.9 1015.7 1665.6 1016.9 1664.1 1018.1 1661.5 1019.4 1659 1020.6 1659.2 1021.8 1660.6 1023 1660.6 1024.3 1660.3 1025.5 1661 1026.7 1662.6 1027.9 1666 1029.2 1671.1 1030.4 1675.1 1031.6 1677.2 1032.8 1679.3 1034.1 1680.6 1035.3 1681.1 1036.5 1682.2 1037.7 1682.1 1039 1681.9 1040.2 1683.7 1041.4 1686.4 1042.6 1687.1 1043.8 1686.1 1045.1 1686.1 1046.3 1687.7 1047.5 1690.3 1048.7 1692.1 1050 1691.9 1051.2 1692.2 1052.4 1693.2 1053.6 1692.6 1054.9 1691.8 1056.1 1693.2 1057.3 1697 1058.5 1700.2 1059.8 1700.8 1061 1702.2 1062.2 1705.8 1063.4 1708.6 1064.7 1709.1 1065.9 1709.3 1067.1 1709.9 1068.3 1710.8 1069.5 1713.2 1070.8 1717.5 1072 1721 1073.2 1722.2 1074.4 1722.2 1075.7 1720.2 1076.9 1717.6 1078.1 1718.4 1079.3 1721.9 1080.6 1724.2 1081.8 1725.4 1083 1726.3 1084.2 1726.2 1085.5 1725.9 1086.7 1726.3 1087.9 1727.5 1089.1 1728.5 1090.3 1728.5 1091.6 1727 1092.8 1724.5 1094 1723.2 1095.2 1724.6 1096.5 1726.3 1097.7 1725.7 1098.9 1723.1 1100.1 1720.2 1101.4 1720.1 1102.6 1720.8 1103.8 1721.4 1105 1722.8 1106.3 1725 1107.5 1726.3 1108.7 1726.3 1109.9 1726.4 1111.2 1727.1 1112.4 1728.2 1113.6 1730.1 1114.8 1731.5 1116 1731.7 1117.3 1732.7 1118.5 1733.8 1119.7 1732.4 1120.9 1728.8 1122.2 1725.1 1123.4 1723.6 1124.6 1723.1 1125.8 1721.9 1127.1 1721.7 1128.3 1724.4 1129.5 1726.3 1130.7 1725.8 1132 1723.7 1133.2 1721.8 1134.4 1721.2 1135.6 1721.8 1136.9 1722.6 1138.1 1723.2" fill="none" stroke="#b36ff7" stroke-width="9" stroke-linejoin="round" stroke-linecap="round" clip-path="url(#clp3)"/>
<text x="213.8" y="1066.5" font-size="51" letter-spacing="0.95" fill="#ea4cec">Touch and pat</text>
<rect x="160.3" y="990.8" width="979" height="787.4" fill="none" stroke="#000" stroke-width="5.6"/>
<path d="M160.3 1778.2V1764.4M405.1 1778.2V1764.4M649.8 1778.2V1764.4M894.5 1778.2V1764.4M1139.3 1778.2V1764.4M160.3 1763.9H174.1M160.3 1620.7H174.1M160.3 1477.6H174.1M160.3 1334.4H174.1M160.3 1191.2H174.1M160.3 1048.1H174.1M160.3 1692.3H167.3M160.3 1549.1H167.3M160.3 1406H167.3M160.3 1262.8H167.3M160.3 1119.6H167.3" stroke="#000" stroke-width="4.6" fill="none"/>
<text x="160.3" y="1837.5" text-anchor="middle" font-size="55">0</text>
<text x="405.1" y="1837.5" text-anchor="middle" font-size="55">40</text>
<text x="649.8" y="1837.5" text-anchor="middle" font-size="55">80</text>
<text x="894.5" y="1837.5" text-anchor="middle" font-size="55">120</text>
<text x="1139.3" y="1837.5" text-anchor="middle" font-size="55">160</text>
<text x="141" y="1779.8" text-anchor="end" font-size="55">0</text>
<text x="141" y="1636.7" text-anchor="end" font-size="55">5</text>
<text x="141" y="1493.5" text-anchor="end" font-size="55">10</text>
<text x="141" y="1350.3" text-anchor="end" font-size="55">15</text>
<text x="141" y="1207.2" text-anchor="end" font-size="55">20</text>
<text x="141" y="1064" text-anchor="end" font-size="55">25</text>
<text transform="translate(71 1384.5) rotate(-90)" text-anchor="middle" font-size="55">&#916;<tspan font-style="italic">R</tspan><tspan font-style="italic">/R</tspan><tspan font-size="38.5" dy="12.1">0</tspan><tspan dy="-12.1"> (%)</tspan></text>
<text x="649.8" y="1890.5" text-anchor="middle" font-size="55">Time (s)</text>
<rect x="1380.5" y="989.4" width="976.5" height="785.1" fill="url(#bgD)"/>
<rect x="1444.4" y="1487.8" width="144.4" height="132.8" fill="url(#wbg1)"/>
<path d="M1493.5 1544.2V1587.2A25.2 4.5 0 0 0 1543.9 1587.2V1544.2Z" fill="url(#rough)"/>
<ellipse cx="1518.7" cy="1544.2" rx="25.2" ry="4.5" fill="#8e969a"/>
<rect x="1513.4" y="1519.8" width="9" height="24.4" fill="#8a8078"/>
<circle cx="1517.9" cy="1519.8" r="10" fill="#8c847c"/>
<circle cx="1514.9" cy="1516.8" r="3.5" fill="#d8d0cc"/>
<text x="1523" y="1630" text-anchor="middle" font-size="45" fill="#1070ff">0.1 N</text>
<rect x="1609.4" y="1345" width="151.6" height="150.8" fill="url(#wbg2)"/>
<path d="M1653.7 1397.8V1461A32.5 5.8 0 0 0 1718.7 1461V1397.8Z" fill="url(#silver)"/>
<ellipse cx="1686.2" cy="1397.8" rx="32.5" ry="5.8" fill="#8e969a"/>
<rect x="1683.2" y="1373" width="9" height="24.8" fill="#8a8078"/>
<circle cx="1687.7" cy="1373" r="10" fill="#8c847c"/>
<circle cx="1684.7" cy="1370" r="3.5" fill="#d8d0cc"/>
<text x="1684" y="1511" text-anchor="middle" font-size="45" fill="#1070ff">0.2 N</text>
<rect x="1777.3" y="1167.7" width="195.9" height="186.3" fill="url(#wbg3)"/>
<path d="M1831 1228.4V1308.2A41 7.4 0 0 0 1913 1308.2V1228.4Z" fill="url(#silver)"/>
<ellipse cx="1872" cy="1228.4" rx="41" ry="7.4" fill="#8e969a"/>
<rect x="1861.7" y="1191" width="12.6" height="37.4" fill="#8a8078"/>
<circle cx="1868" cy="1191" r="14" fill="#8c847c"/>
<circle cx="1863.8" cy="1186.8" r="4.9" fill="#d8d0cc"/>
<text x="1876" y="1361.5" text-anchor="middle" font-size="45" fill="#1070ff">0.5 N</text>
<rect x="2003.3" y="1002.5" width="212" height="206.3" fill="url(#wbg4)"/>
<path d="M2061 1065.7V1171A50 9 0 0 0 2161 1171V1065.7Z" fill="url(#shiny)"/>
<ellipse cx="2111" cy="1065.7" rx="50" ry="9" fill="#8e969a"/>
<rect x="2101.7" y="1029" width="12.6" height="36.7" fill="#8a8078"/>
<circle cx="2108" cy="1029" r="14" fill="#8c847c"/>
<circle cx="2103.8" cy="1024.8" r="4.9" fill="#d8d0cc"/>
<text x="2115" y="1215" text-anchor="middle" font-size="45" fill="#1070ff">1.0 N</text>
<path d="M1380.5 1764.4 1381.5 1763.7 1382.5 1763 1383.4 1762.7 1384.4 1761.8 1385.4 1759.5 1386.4 1756.9 1387.3 1755.9 1388.3 1756.4 1389.3 1757.1 1390.3 1757.3 1391.2 1758.9 1392.2 1760.5 1393.2 1761.4 1394.2 1760.6 1395.1 1759.3 1396.1 1759 1397.1 1760.1 1398.1 1762.3 1399.1 1764.6 1400 1765.7 1401 1763.6 1402 1761.4 1403 1760.2 1403.9 1760.3 1404.9 1760.7 1405.9 1759.8 1406.9 1758.6 1407.8 1758.3 1408.8 1758.4 1409.8 1757.7 1410.8 1756 1411.7 1753.4 1412.7 1752.1 1413.7 1752.1 1414.7 1751.7 1415.7 1750.2 1416.6 1748.7 1417.6 1747.5 1418.6 1747.1 1419.6 1747.3 1420.5 1747.2 1421.5 1746.7 1422.5 1746.6 1423.5 1746.3 1424.4 1745 1425.4 1744 1426.4 1746.5 1427.4 1748.3 1428.3 1748.9 1429.3 1749.8 1430.3 1751.1 1431.3 1752.3 1432.3 1753.3 1433.2 1754.6 1434.2 1756.9 1435.2 1759.3 1436.2 1757.9 1437.1 1756.4 1438.1 1755.1 1439.1 1753.5 1440.1 1751.8 1441 1750.3 1442 1748.7 1443 1747.8 1444 1748.2 1444.9 1747.9 1445.9 1745.6 1446.9 1745.3 1447.9 1746.4 1448.9 1748.7 1449.8 1750.6 1450.8 1751.9 1451.8 1752.9 1452.8 1753.4 1453.7 1752.8 1454.7 1752.2 1455.7 1750.3 1456.7 1749.5 1457.6 1749.8 1458.6 1750.2 1459.6 1748.7 1460.6 1745.8 1461.5 1744.1 1462.5 1743.1 1463.5 1741.6 1464.5 1740.3 1465.5 1739.9 1466.4 1742.9 1467.4 1745.3 1468.4 1747 1469.4 1748.2 1470.3 1748.5 1471.3 1749.3 1472.3 1752.1 1473.3 1751.8 1474.2 1749.9 1475.2 1746.4 1476.2 1743 1477.2 1741 1478.2 1739.6 1479.1 1736.9 1480.1 1733.7 1481.1 1735.7 1482.1 1739 1483 1741.7 1484 1743.2 1485 1743.7 1486 1744.6 1486.9 1746.7 1487.9 1748.6 1488.9 1749.3 1489.9 1749.7 1490.8 1747.9 1491.8 1747 1492.8 1745.6 1493.8 1743.6 1494.8 1741.9 1495.7 1740.6 1496.7 1740.3 1497.7 1740.4 1498.7 1740 1499.6 1739 1500.6 1737.2 1501.6 1736.9 1502.6 1736.5 1503.5 1737.5 1504.5 1740.2 1505.5 1743.1 1506.5 1744.7 1507.4 1745.6 1508.4 1746.4 1509.4 1746.5 1510.4 1747.2 1511.4 1748.9 1512.3 1747.9 1513.3 1745.4 1514.3 1743.3 1515.3 1742.4 1516.2 1722.7 1517.2 1702.8 1518.2 1681.8 1519.2 1661.1 1520.1 1641.1 1521.1 1643.6 1522.1 1645.6 1523.1 1645.7 1524 1644.4 1525 1647 1526 1651.5 1527 1656.4 1528 1660.3 1528.9 1663.2 1529.9 1666.4 1530.9 1670.1 1531.9 1673.9 1532.8 1677.7 1533.8 1681.4 1534.8 1682.9 1535.8 1683.9 1536.7 1685.7 1537.7 1687.9 1538.7 1688.8 1539.7 1690.1 1540.6 1693.2 1541.6 1696.1 1542.6 1697.8 1543.6 1698.9 1544.6 1701.6 1545.5 1705.6 1546.5 1710.5 1547.5 1713.9 1548.5 1715.8 1549.4 1717.7 1550.4 1720.3 1551.4 1724.2 1552.4 1726.2 1553.3 1727.1 1554.3 1726.7 1555.3 1726.6 1556.3 1726.8 1557.2 1726.6 1558.2 1725.8 1559.2 1723.9 1560.2 1722.8 1561.2 1722.3 1562.1 1722.1 1563.1 1721.9 1564.1 1721.1 1565.1 1719.5 1566 1718.7 1567 1718.9 1568 1720.1 1569 1721.8 1569.9 1723.2 1570.9 1723.3 1571.9 1721.9 1572.9 1720.6 1573.8 1720.3 1574.8 1721.4 1575.8 1722.7 1576.8 1721.2 1577.8 1719.4 1578.7 1718.6 1579.7 1717.7 1580.7 1715.5 1581.7 1714.3 1582.6 1716.5 1583.6 1718 1584.6 1718.6 1585.6 1719.7 1586.5 1721.7 1587.5 1723.2 1588.5 1723.5 1589.5 1722.3 1590.4 1722.5 1591.4 1721.8 1592.4 1719.2 1593.4 1717.1 1594.4 1716.4 1595.3 1715.4 1596.3 1713.9 1597.3 1713.3 1598.3 1713.1 1599.2 1714.2 1600.2 1715.3 1601.2 1715.9 1602.2 1715.8 1603.1 1716.2 1604.1 1717.3 1605.1 1718.4 1606.1 1719.5 1607 1721.2 1608 1723.3 1609 1724.5 1610 1725.2 1611 1725.7 1611.9 1726.6 1612.9 1729.2 1613.9 1732.4 1614.9 1734.2 1615.8 1734.8 1616.8 1735.5 1617.8 1737.1 1618.8 1739.7 1619.7 1739.1 1620.7 1736.9 1621.7 1734.1 1622.7 1731.7 1623.6 1729.2 1624.6 1727.1 1625.6 1725.8 1626.6 1725 1627.6 1724 1628.5 1722.4 1629.5 1720.2 1630.5 1718.3 1631.5 1716.9 1632.4 1715.4 1633.4 1713.3 1634.4 1714.4 1635.4 1716.6 1636.3 1719.1 1637.3 1720.6 1638.3 1721.3 1639.3 1722.3 1640.2 1724.3 1641.2 1726.9 1642.2 1728.8 1643.2 1729.2 1644.2 1729.2 1645.1 1731.4 1646.1 1734 1647.1 1737 1648.1 1740.3 1649 1743.5 1650 1746.8 1651 1750 1652 1745.4 1652.9 1740.8 1653.9 1737.2 1654.9 1733.9 1655.9 1730.6 1656.8 1727.8 1657.8 1724.6 1658.8 1724.8 1659.8 1723.9 1660.8 1723.9 1661.7 1725.2 1662.7 1727 1663.7 1729.5 1664.7 1732.4 1665.6 1734.3 1666.6 1735.3 1667.6 1710.1 1668.6 1685 1669.5 1647.3 1670.5 1610.9 1671.5 1574.7 1672.5 1528.6 1673.5 1532.2 1674.4 1536.1 1675.4 1540.5 1676.4 1545.2 1677.4 1549.8 1678.3 1551.6 1679.3 1553.3 1680.3 1554.7 1681.3 1556 1682.2 1558.5 1683.2 1561.8 1684.2 1564.3 1685.2 1565.3 1686.1 1565.2 1687.1 1565.6 1688.1 1571.7 1689.1 1578.7 1690.1 1584.9 1691 1590.5 1692 1597 1693 1603.9 1694 1610.3 1694.9 1614.7 1695.9 1618.1 1696.9 1622.1 1697.9 1627 1698.8 1631.8 1699.8 1636.5 1700.8 1642.4 1701.8 1649 1702.7 1653.5 1703.7 1659.7 1704.7 1666.8 1705.7 1675.9 1706.7 1679.7 1707.6 1683.5 1708.6 1686.5 1709.6 1688.2 1710.6 1688.5 1711.5 1688.3 1712.5 1689.4 1713.5 1692.7 1714.5 1696.6 1715.4 1699.1 1716.4 1700 1717.4 1702.3 1718.4 1705.4 1719.3 1708.3 1720.3 1711.1 1721.3 1714.2 1722.3 1717.8 1723.3 1722.1 1724.2 1726.6 1725.2 1731 1726.2 1730.8 1727.2 1729.9 1728.1 1728.6 1729.1 1727.4 1730.1 1725.3 1731.1 1722.8 1732 1720.9 1733 1719.5 1734 1718.2 1735 1720.5 1735.9 1722.5 1736.9 1724.2 1737.9 1726.6 1738.9 1729.7 1739.9 1732.5 1740.8 1734.9 1741.8 1737.3 1742.8 1740.3 1743.8 1743.4 1744.7 1745.8 1745.7 1747.6 1746.7 1745.1 1747.7 1743.1 1748.6 1739.5 1749.6 1735.4 1750.6 1732.2 1751.6 1728.8 1752.5 1728.4 1753.5 1728.7 1754.5 1730.2 1755.5 1731.7 1756.5 1732.7 1757.4 1733 1758.4 1733 1759.4 1733.1 1760.4 1733.7 1761.3 1734.8 1762.3 1734.1 1763.3 1732.3 1764.3 1731.5 1765.2 1732 1766.2 1731.8 1767.2 1731 1768.2 1730.5 1769.1 1729.9 1770.1 1728.2 1771.1 1726.6 1772.1 1725.9 1773.1 1725.6 1774 1725.7 1775 1725.9 1776 1725.3 1777 1724.9 1777.9 1725.8 1778.9 1726.1 1779.9 1724.9 1780.9 1726.8 1781.8 1729.4 1782.8 1731.6 1783.8 1733.8 1784.8 1737.4 1785.7 1741.1 1786.7 1743.6 1787.7 1745.1 1788.7 1746.8 1789.7 1745.3 1790.6 1743.8 1791.6 1742 1792.6 1740.6 1793.6 1739.2 1794.5 1736.7 1795.5 1734.1 1796.5 1732.3 1797.5 1731.2 1798.4 1730.2 1799.4 1729.1 1800.4 1727.6 1801.4 1725.6 1802.3 1724.2 1803.3 1723.7 1804.3 1722.7 1805.3 1720.3 1806.3 1718 1807.2 1716.3 1808.2 1715.2 1809.2 1717.9 1810.2 1720.3 1811.1 1721 1812.1 1720.6 1813.1 1721.1 1814.1 1723.5 1815 1725.6 1816 1726.3 1817 1727.8 1818 1730.9 1818.9 1733.2 1819.9 1733.9 1820.9 1735 1821.9 1737.5 1822.9 1740 1823.8 1739.4 1824.8 1738.7 1825.8 1738.1 1826.8 1736.9 1827.7 1734.7 1828.7 1732.1 1829.7 1730.6 1830.7 1730.5 1831.6 1730.8 1832.6 1730.5 1833.6 1730 1834.6 1729.3 1835.5 1727.2 1836.5 1724.4 1837.5 1722.9 1838.5 1724.1 1839.5 1725.3 1840.4 1725.4 1841.4 1725.3 1842.4 1726.3 1843.4 1728.3 1844.3 1730 1845.3 1729.7 1846.3 1728.1 1847.3 1727.8 1848.2 1728.9 1849.2 1729.7 1850.2 1730 1851.2 1730 1852.1 1730.4 1853.1 1731.4 1854.1 1732.5 1855.1 1732.7 1856.1 1733 1857 1733.3 1858 1732.7 1859 1731.2 1860 1685.4 1860.9 1617.1 1861.9 1525.2 1862.9 1424.8 1863.9 1381.2 1864.8 1395.4 1865.8 1409.3 1866.8 1421.2 1867.8 1432.2 1868.8 1436.1 1869.7 1441.5 1870.7 1448 1871.7 1454.3 1872.7 1459 1873.6 1462.5 1874.6 1468.7 1875.6 1476.2 1876.6 1483 1877.5 1489 1878.5 1495.1 1879.5 1501.4 1880.5 1508 1881.4 1514.3 1882.4 1520.3 1883.4 1538.6 1884.4 1557.6 1885.4 1576 1886.3 1594.3 1887.3 1605 1888.3 1615.5 1889.3 1625.9 1890.2 1637 1891.2 1648.3 1892.2 1650.2 1893.2 1651 1894.1 1651.1 1895.1 1651.5 1896.1 1653.2 1897.1 1659.4 1898 1665.8 1899 1672.6 1900 1678.2 1901 1682.3 1902 1687 1902.9 1687.4 1903.9 1688.6 1904.9 1689.5 1905.9 1689.1 1906.8 1688.5 1907.8 1688.7 1908.8 1689.9 1909.8 1691.8 1910.7 1693 1911.7 1692.7 1912.7 1692.8 1913.7 1693.3 1914.6 1694.4 1915.6 1695.3 1916.6 1695.6 1917.6 1696.3 1918.6 1698.9 1919.5 1699.5 1920.5 1699.1 1921.5 1697.4 1922.5 1695.2 1923.4 1693.2 1924.4 1691.5 1925.4 1689.9 1926.4 1688.4 1927.3 1686.4 1928.3 1683.9 1929.3 1682.5 1930.3 1682.1 1931.2 1686.6 1932.2 1690.8 1933.2 1696.5 1934.2 1702.2 1935.2 1705.6 1936.1 1707.9 1937.1 1711 1938.1 1709.7 1939.1 1709.8 1940 1709.5 1941 1707.4 1942 1704.9 1943 1703.6 1943.9 1702.6 1944.9 1700.7 1945.9 1698.5 1946.9 1696.8 1947.8 1700.8 1948.8 1705 1949.8 1707.8 1950.8 1709.6 1951.8 1712.5 1952.7 1717.2 1953.7 1721.7 1954.7 1724.7 1955.7 1726.6 1956.6 1729 1957.6 1732.1 1958.6 1727.8 1959.6 1724.2 1960.5 1720.5 1961.5 1715.5 1962.5 1710.2 1963.5 1705.5 1964.4 1708.8 1965.4 1712.2 1966.4 1714.3 1967.4 1716.6 1968.4 1720.3 1969.3 1723.9 1970.3 1726.2 1971.3 1722.8 1972.3 1719.7 1973.2 1716.8 1974.2 1714.3 1975.2 1712.1 1976.2 1709.3 1977.1 1705.7 1978.1 1702 1979.1 1698.7 1980.1 1704.8 1981 1712 1982 1718.3 1983 1723.4 1984 1728.6 1985 1733.8 1985.9 1739.4 1986.9 1745.7 1987.9 1745 1988.9 1743.2 1989.8 1740.5 1990.8 1738.4 1991.8 1737.6 1992.8 1737.2 1993.7 1736.3 1994.7 1735.4 1995.7 1734.1 1996.7 1732.8 1997.6 1732.2 1998.6 1732 1999.6 1731 2000.6 1730.2 2001.6 1730.5 2002.5 1731.4 2003.5 1732.4 2004.5 1732.2 2005.5 1728.2 2006.4 1724.8 2007.4 1722.6 2008.4 1720.4 2009.4 1717.1 2010.3 1712.9 2011.3 1709 2012.3 1713.4 2013.3 1718.9 2014.2 1724.1 2015.2 1727.9 2016.2 1730 2017.2 1732.3 2018.2 1736.5 2019.1 1734.7 2020.1 1732.3 2021.1 1728.6 2022.1 1723.9 2023 1719.4 2024 1715.5 2025 1711.2 2026 1712.6 2026.9 1715.4 2027.9 1718 2028.9 1719 2029.9 1720.1 2030.8 1723.5 2031.8 1728.2 2032.8 1731.5 2033.8 1732.7 2034.8 1733.7 2035.7 1735.7 2036.7 1737.6 2037.7 1738.5 2038.7 1739.6 2039.6 1741.5 2040.6 1743.8 2041.6 1745.9 2042.6 1748.5 2043.5 1747 2044.5 1745.2 2045.5 1743 2046.5 1739.9 2047.4 1736.4 2048.4 1734 2049.4 1732 2050.4 1729.5 2051.4 1726.8 2052.3 1724.4 2053.3 1721.8 2054.3 1718.8 2055.3 1720.2 2056.2 1721.9 2057.2 1723.6 2058.2 1725.6 2059.2 1728.2 2060.1 1730.5 2061.1 1731.8 2062.1 1732.8 2063.1 1734.7 2064.1 1737.2 2065 1739.6 2066 1741.6 2067 1740.7 2068 1739.2 2068.9 1737.5 2069.9 1736.3 2070.9 1735.6 2071.9 1735 2072.8 1733.8 2073.8 1731.8 2074.8 1730.1 2075.8 1729 2076.7 1728.5 2077.7 1728.8 2078.7 1729.2 2079.7 1728.9 2080.7 1728 2081.6 1727.1 2082.6 1726.2 2083.6 1725.1 2084.6 1728 2085.5 1730.9 2086.5 1733.7 2087.5 1736.3 2088.5 1738.8 2089.4 1741.2 2090.4 1736.5 2091.4 1732.5 2092.4 1728.8 2093.3 1725.1 2094.3 1720.5 2095.3 1715.6 2096.3 1662.8 2097.3 1609.6 2098.2 1541.5 2099.2 1473.8 2100.2 1411.8 2101.2 1350.3 2102.1 1289.2 2103.1 1221.3 2104.1 1226.8 2105.1 1233.6 2106 1240.7 2107 1255.8 2108 1271.1 2109 1276.8 2109.9 1282 2110.9 1286.8 2111.9 1292.6 2112.9 1298.3 2113.9 1302 2114.8 1310.7 2115.8 1320.5 2116.8 1330.9 2117.8 1341.2 2118.7 1352.1 2119.7 1363.7 2120.7 1375 2121.7 1382.1 2122.6 1389.1 2123.6 1395 2124.6 1400.3 2125.6 1406.3 2126.5 1412.6 2127.5 1418.9 2128.5 1425.7 2129.5 1433 2130.5 1442.5 2131.4 1451.9 2132.4 1460.6 2133.4 1469.4 2134.4 1478.1 2135.3 1486.3 2136.3 1493.9 2137.3 1499.8 2138.3 1505.6 2139.2 1512.1 2140.2 1519.9 2141.2 1527.9 2142.2 1535 2143.1 1542 2144.1 1549.6 2145.1 1556.5 2146.1 1562.8 2147.1 1568.1 2148 1573.1 2149 1579.2 2150 1586.2 2151 1593.6 2151.9 1600.4 2152.9 1606.3 2153.9 1614.6 2154.9 1623.5 2155.8 1632.2 2156.8 1633.1 2157.8 1634.9 2158.8 1636.5 2159.7 1636.5 2160.7 1635.4 2161.7 1635.1 2162.7 1636.4 2163.7 1638.2 2164.6 1642.7 2165.6 1645.7 2166.6 1649.1 2167.6 1653.8 2168.5 1658.5 2169.5 1662.3 2170.5 1666.3 2171.5 1668.5 2172.4 1670.8 2173.4 1672.8 2174.4 1674 2175.4 1675.2 2176.3 1677.2 2177.3 1680 2178.3 1683.1 2179.3 1685.9 2180.3 1687.6 2181.2 1688.6 2182.2 1689.5 2183.2 1686.9 2184.2 1684.2 2185.1 1681.7 2186.1 1679.6 2187.1 1677.6 2188.1 1675.4 2189 1679.8 2190 1685.1 2191 1690.3 2192 1694.2 2192.9 1697.2 2193.9 1700.4 2194.9 1700.2 2195.9 1700.8 2196.9 1702 2197.8 1703 2198.8 1703.4 2199.8 1703.5 2200.8 1703.9 2201.7 1706.2 2202.7 1707.2 2203.7 1707.1 2204.7 1708.5 2205.6 1711.8 2206.6 1712.3 2207.6 1711.1 2208.6 1710.7 2209.5 1711 2210.5 1710.3 2211.5 1709.9 2212.5 1711 2213.5 1713 2214.4 1714.2 2215.4 1713.9 2216.4 1712.2 2217.4 1711 2218.3 1711 2219.3 1711.5 2220.3 1711.9 2221.3 1713 2222.2 1714.2 2223.2 1715.7 2224.2 1716.9 2225.2 1716.6 2226.1 1716.4 2227.1 1717.7 2228.1 1719 2229.1 1719.2 2230.1 1718.9 2231 1718.9 2232 1718.8 2233 1718.8 2234 1719.6 2234.9 1721.3 2235.9 1723.1 2236.9 1724.9 2237.9 1726 2238.8 1725.9 2239.8 1725.3 2240.8 1723.6 2241.8 1722 2242.7 1721.1 2243.7 1721.4 2244.7 1721.7 2245.7 1720.8 2246.7 1719.4 2247.6 1718.4 2248.6 1717 2249.6 1714.6 2250.6 1712.3 2251.5 1710.7 2252.5 1710.1 2253.5 1709.9 2254.5 1709.7 2255.4 1709.9 2256.4 1709.6 2257.4 1708.8 2258.4 1709 2259.3 1710.6 2260.3 1711.5 2261.3 1710.5 2262.3 1708.3 2263.3 1706.5 2264.2 1705.7 2265.2 1705.6 2266.2 1705.9 2267.2 1708.7 2268.1 1711 2269.1 1713.4 2270.1 1716.4 2271.1 1719 2272 1720.1 2273 1720.6 2274 1722.1 2275 1724.1 2276 1720.3 2276.9 1717.2 2277.9 1714.3 2278.9 1710 2279.9 1705.2 2280.8 1701.7 2281.8 1703.3 2282.8 1704.8 2283.8 1705.2 2284.7 1705.3 2285.7 1706 2286.7 1706.4 2287.7 1706.5 2288.6 1707.5 2289.6 1709.3 2290.6 1710.4 2291.6 1710.6 2292.6 1710.6 2293.5 1710.7 2294.5 1710.4 2295.5 1709.7 2296.5 1710.7 2297.4 1712.8 2298.4 1715.3 2299.4 1717.2 2300.4 1719.2 2301.3 1721.5 2302.3 1723.9 2303.3 1726.6 2304.3 1728.8 2305.2 1730.5 2306.2 1732.4 2307.2 1733.6 2308.2 1734.8 2309.2 1737.3 2310.1 1740 2311.1 1741.8 2312.1 1743 2313.1 1745.2 2314 1748.6 2315 1751.7 2316 1755 2317 1754 2317.9 1751.4 2318.9 1748.1 2319.9 1745.9 2320.9 1744.9 2321.8 1744 2322.8 1742.2 2323.8 1739.3 2324.8 1736 2325.8 1733.6 2326.7 1732 2327.7 1730 2328.7 1730.9 2329.7 1732.2 2330.6 1734.2 2331.6 1736.7 2332.6 1740 2333.6 1743.3 2334.5 1745.2 2335.5 1745.5 2336.5 1745.8 2337.5 1744.4 2338.4 1744.3 2339.4 1744.7 2340.4 1744.5 2341.4 1744.3 2342.4 1744.8 2343.3 1744.6 2344.3 1743.2 2345.3 1742.1 2346.3 1742.1 2347.2 1742.3 2348.2 1742.2 2349.2 1741.8 2350.2 1741.5 2351.1 1740.8 2352.1 1741.6 2353.1 1742.5 2354.1 1744.3 2355 1746 2356 1746.7 2357 1747.1" fill="none" stroke="#5383f7" stroke-width="9" stroke-linejoin="round" stroke-linecap="round" clip-path="url(#clp4)"/>
<text x="1455.2" y="1067.2" font-size="53" fill="#1070ff">Compress</text>
<rect x="1380.5" y="989.4" width="976.5" height="785.1" fill="none" stroke="#000" stroke-width="5.6"/>
<path d="M1380.5 1774.5V1760.7M1575.8 1774.5V1760.7M1771.1 1774.5V1760.7M1966.4 1774.5V1760.7M2161.7 1774.5V1760.7M2357 1774.5V1760.7M1380.5 1766.7H1394.3M1380.5 1507.6H1394.3M1380.5 1248.5H1394.3M1380.5 989.4H1394.3M1380.5 1637.2H1387.5M1380.5 1378.1H1387.5M1380.5 1119H1387.5" stroke="#000" stroke-width="4.6" fill="none"/>
<text x="1380.5" y="1834" text-anchor="middle" font-size="55">0</text>
<text x="1575.8" y="1834" text-anchor="middle" font-size="55">20</text>
<text x="1771.1" y="1834" text-anchor="middle" font-size="55">40</text>
<text x="1966.4" y="1834" text-anchor="middle" font-size="55">60</text>
<text x="2161.7" y="1834" text-anchor="middle" font-size="55">80</text>
<text x="2357" y="1834" text-anchor="middle" font-size="55">100</text>
<text x="1361.5" y="1782.7" text-anchor="end" font-size="55">0</text>
<text x="1361.5" y="1523.6" text-anchor="end" font-size="55">15</text>
<text x="1361.5" y="1264.5" text-anchor="end" font-size="55">30</text>
<text x="1361.5" y="1005.4" text-anchor="end" font-size="55">45</text>
<text transform="translate(1279.5 1381) rotate(-90)" text-anchor="middle" font-size="55">&#916;<tspan font-style="italic">R</tspan><tspan font-style="italic">/R</tspan><tspan font-size="38.5" dy="12.1">0</tspan><tspan dy="-12.1"> (%)</tspan></text>
<text x="1868.7" y="1890.7" text-anchor="middle" font-size="55">Time (s)</text>
<rect x="161.7" y="1977.7" width="980.5" height="787.9999999999998" fill="url(#bgE)"/>
<rect x="198.6" y="2242.7" width="195.5" height="179.8" fill="url(#hbg)" />
<polygon points="214.2,2301.2 231.4,2287 265.6,2281.3 308.4,2272.7 337,2264.1 379.8,2261.3 394,2264.1 394,2324.1 356.9,2318.4 339.8,2329.8 308.4,2358.3 265.6,2386.8 245.6,2401.1 231.4,2389.7 214.2,2372.6 210,2344" fill="url(#skin)"/>
<ellipse cx="247.1" cy="2348.3" rx="25.1" ry="16" fill="#c8907e" opacity="0.7" transform="rotate(-35 247.1 2348.3)"/>
<ellipse cx="252.8" cy="2348.3" rx="8" ry="6.8" fill="#3a1c16" opacity="0.9"/>
<polygon points="328.4,2266.4 351.2,2261.8 354.7,2280.7 334.1,2285.5" fill="#25282a"/>
<polygon points="362.6,2261.8 381.2,2259 384.9,2275.5 368.4,2278.4" fill="#25282a"/>
<polyline points="314.1,2267.6 396.9,2259.9" fill="none" stroke="#3aa2f2" stroke-width="3" stroke-dasharray="9 5"/>
<polyline points="376.9,2264.1 416.9,2245.6" fill="none" stroke="#3aa2f2" stroke-width="3" stroke-dasharray="9 5"/>
<rect x="429.7" y="2155.1" width="194.9" height="178.9" fill="url(#hbg)" />
<polygon points="448.3,2229.9 465.4,2218.5 508.2,2204.2 551,2184.2 593.8,2172.8 624.6,2172.8 624.6,2232.7 593.8,2227 573.8,2238.4 551,2267 522.5,2301.2 499.6,2319.8 482.5,2306.9 451.1,2301.2 445.4,2272.7" fill="url(#skin)"/>
<ellipse cx="482.5" cy="2278.4" rx="28.3" ry="18" fill="#c8907e" opacity="0.7" transform="rotate(-35 482.5 2278.4)"/>
<ellipse cx="488.9" cy="2278.4" rx="9" ry="7.7" fill="#3a1c16" opacity="0.9"/>
<polygon points="554.4,2178.5 576.7,2172.2 582.4,2187.1 561,2191.4" fill="#25282a"/>
<polygon points="585.3,2170.5 606.7,2166.5 610.9,2179.1 591,2181.9" fill="#25282a"/>
<polyline points="539.6,2182.8 625.2,2167.1" fill="none" stroke="#3aa2f2" stroke-width="3" stroke-dasharray="9 5"/>
<polyline points="593.8,2164.2 636.6,2145.7" fill="none" stroke="#3aa2f2" stroke-width="3" stroke-dasharray="9 5"/>
<rect x="654.8" y="2059" width="190.6" height="179.2" fill="url(#hbg)" />
<polygon points="667.1,2158.4 697.1,2129.8 725.6,2107 748.4,2087 768.4,2075.6 791.3,2072.7 811.2,2075.6 845.5,2077 845.5,2137 811.2,2128.4 788.4,2124.1 777,2146.9 759.9,2181.2 739.9,2215.4 731.3,2221.1 719.9,2212.6 691.4,2222.6 674.2,2195.5 667.1,2169.8" fill="url(#skin)"/>
<ellipse cx="711.3" cy="2191.2" rx="26.7" ry="17" fill="#c8907e" opacity="0.7" transform="rotate(-35 711.3 2191.2)"/>
<ellipse cx="717.4" cy="2191.2" rx="8.5" ry="7.3" fill="#3a1c16" opacity="0.9"/>
<polygon points="749.9,2087 765.6,2079.9 771.8,2095.6 757,2099.9" fill="#25282a"/>
<polygon points="784.1,2074.2 797,2071.3 801.2,2082.7 788.4,2084.2" fill="#25282a"/>
<polyline points="738.5,2095.6 788.4,2061.3" fill="none" stroke="#3aa2f2" stroke-width="3" stroke-dasharray="9 5"/>
<polyline points="774.1,2069.9 825.5,2034.2" fill="none" stroke="#3aa2f2" stroke-width="3" stroke-dasharray="9 5"/>
<polyline points="797,2074.2 831.2,2077.9" fill="none" stroke="#3aa2f2" stroke-width="3" stroke-dasharray="9 5"/>
<rect x="883.2" y="1982" width="190.6" height="178.7" fill="url(#hbg)" />
<polygon points="902.6,2095.6 925.4,2069.9 948.2,2041.3 968.2,2018.5 982.5,2001.4 1011,1998.5 1039.5,2001.4 1073.8,2004.2 1073.8,2061.3 1039.5,2052.8 1011,2047.1 1005.3,2067 996.7,2101.3 988.2,2129.8 976.8,2149.8 968.2,2146.9 931.1,2152.6 911.1,2129.8 902.6,2107" fill="url(#skin)"/>
<ellipse cx="948.2" cy="2125.5" rx="26.7" ry="17" fill="#c8907e" opacity="0.7" transform="rotate(-35 948.2 2125.5)"/>
<ellipse cx="954.3" cy="2125.5" rx="8.5" ry="7.3" fill="#3a1c16" opacity="0.9"/>
<polygon points="972.5,2010 985.3,2004.2 990.5,2021.4 979.6,2025.7" fill="#25282a"/>
<polygon points="1000.2,1998 1013.9,1996.3 1018.1,2005.7 1005.3,2007.1" fill="#25282a"/>
<polyline points="949.6,2035.6 993.9,1991.4" fill="none" stroke="#3aa2f2" stroke-width="3" stroke-dasharray="9 5"/>
<polyline points="982.5,1997.1 1008.2,1977.1" fill="none" stroke="#3aa2f2" stroke-width="3" stroke-dasharray="9 5"/>
<polyline points="996.7,1998.5 1045.3,2000" fill="none" stroke="#3aa2f2" stroke-width="3" stroke-dasharray="9 5"/>
<text x="405.5" y="2266" font-size="24" font-weight="normal" fill="#3aa2f2">23&#176;</text>
<text x="626.6" y="2169.5" font-size="24" font-weight="normal" fill="#3aa2f2">32&#176;</text>
<text x="815.5" y="2062.5" font-size="24" font-weight="normal" fill="#3aa2f2">41&#176;</text>
<text x="1032.4" y="1998" font-size="24" font-weight="normal" fill="#3aa2f2">50&#176;</text>
<path d="M161.7 2706 162.5 2704.4 163.4 2702.4 164.2 2701.7 165 2702.3 165.8 2706.6 166.7 2713.3 167.5 2710.9 168.3 2704.7 169.1 2704.1 170 2707.5 170.8 2713.1 171.6 2714.9 172.4 2713.9 173.3 2711.9 174.1 2713.2 174.9 2718.5 175.7 2719.3 176.6 2714 177.4 2707.5 178.2 2709.2 179 2713.6 179.9 2713.7 180.7 2715.1 181.5 2716.4 182.3 2720.2 183.2 2719.7 184 2714.5 184.8 2717.3 185.6 2716.9 186.5 2709 187.3 2709.4 188.1 2713.1 188.9 2711.4 189.8 2711.8 190.6 2715.6 191.4 2716.2 192.3 2712.2 193.1 2709.5 193.9 2708.5 194.7 2711.4 195.6 2718.4 196.4 2722.5 197.2 2724.3 198 2725.6 198.9 2724.8 199.7 2720.4 200.5 2718.6 201.3 2719.4 202.2 2716.5 203 2716.3 203.8 2715.1 204.6 2710.9 205.5 2712.3 206.3 2714.7 207.1 2712 207.9 2710.9 208.8 2710.4 209.6 2707.8 210.4 2707.9 211.2 2703.2 212.1 2701.3 212.9 2704.5 213.7 2701.5 214.5 2699.4 215.4 2701.2 216.2 2705 217 2705.7 217.8 2698.9 218.7 2693.7 219.5 2694.9 220.3 2691.9 221.1 2686.8 222 2689.2 222.8 2695.9 223.6 2698.3 224.5 2695 225.3 2695.1 226.1 2697.7 226.9 2694 227.8 2689.6 228.6 2693.3 229.4 2697.3 230.2 2696.6 231.1 2699.8 231.9 2700.4 232.7 2694.2 233.5 2692.6 234.4 2694.2 235.2 2693 236 2695.4 236.8 2700.3 237.7 2702.4 238.5 2704.6 239.3 2706.2 240.1 2703 241 2694.8 241.8 2693 242.6 2701.5 243.4 2702.3 244.3 2694.9 245.1 2695.5 245.9 2700.6 246.7 2701.3 247.6 2697 248.4 2694.5 249.2 2697.6 250 2702.3 250.9 2701.8 251.7 2699.2 252.5 2701.8 253.4 2699.7 254.2 2697.8 255 2701.2 255.8 2698 256.7 2694.6 257.5 2696.9 258.3 2701.6 259.1 2707.3 260 2709.8 260.8 2708 261.6 2705.6 262.4 2707.8 263.3 2706.8 264.1 2701.3 264.9 2699.9 265.7 2703.1 266.6 2708.9 267.4 2710.8 268.2 2710.1 269 2713.4 269.9 2717.1 270.7 2719.1 271.5 2720.4 272.3 2715.5 273.2 2707.3 274 2705.8 274.8 2710.3 275.6 2714.4 276.5 2718.2 277.3 2720.8 278.1 2717 278.9 2709.5 279.8 2708.4 280.6 2711 281.4 2709 282.2 2707 283.1 2708 283.9 2708 284.7 2709.2 285.6 2711.1 286.4 2711.7 287.2 2712.4 288 2709.5 288.9 2704.3 289.7 2704.5 290.5 2704.5 291.3 2677.1 292.2 2645.6 293 2621.9 293.8 2603 294.6 2579 295.5 2554.1 296.3 2529.4 297.1 2506.7 297.9 2490.5 298.8 2475.3 299.6 2462.9 300.4 2451.2 301.2 2441 302.1 2445.1 302.9 2453.7 303.7 2463.2 304.5 2469 305.4 2477.1 306.2 2487.6 307 2495.6 307.8 2506.9 308.7 2527.6 309.5 2553 310.3 2574.3 311.1 2589.2 312 2604.3 312.8 2624.1 313.6 2640.4 314.5 2655.1 315.3 2660.4 316.1 2665.7 316.9 2665.5 317.8 2666.2 318.6 2670.2 319.4 2673.7 320.2 2674.4 321.1 2674.7 321.9 2677.3 322.7 2683.5 323.5 2690.4 324.4 2691.4 325.2 2686.5 326 2685.2 326.8 2686.4 327.7 2684.1 328.5 2685.6 329.3 2690.4 330.1 2690.4 331 2692 331.8 2695.1 332.6 2694.3 333.4 2692.7 334.3 2693.3 335.1 2694.8 335.9 2694.1 336.7 2690.6 337.6 2687.8 338.4 2685.8 339.2 2686.7 340 2687.1 340.9 2686.6 341.7 2690.8 342.5 2692.1 343.4 2690.5 344.2 2691.4 345 2689.9 345.8 2686 346.7 2689.1 347.5 2692.3 348.3 2690.6 349.1 2690.6 350 2689.6 350.8 2688 351.6 2684.3 352.4 2679.4 353.3 2681.1 354.1 2684.2 354.9 2683 355.7 2684.2 356.6 2689.6 357.4 2691.2 358.2 2687.5 359 2683 359.9 2678.7 360.7 2678.6 361.5 2684.4 362.3 2686.6 363.2 2687.2 364 2694 364.8 2695.5 365.6 2689.7 366.5 2689.5 367.3 2692.1 368.1 2688 368.9 2685.5 369.8 2689.8 370.6 2693.6 371.4 2695.5 372.2 2692.3 373.1 2687.8 373.9 2687.7 374.7 2685 375.6 2684.3 376.4 2690.4 377.2 2692 378 2688.6 378.9 2690.6 379.7 2694.9 380.5 2692.8 381.3 2688.7 382.2 2691.8 383 2696 383.8 2697.1 384.6 2697.3 385.5 2694.8 386.3 2695 387.1 2695 387.9 2690.2 388.8 2691.6 389.6 2697.8 390.4 2698.1 391.2 2694.4 392.1 2689.4 392.9 2690.5 393.7 2697.5 394.5 2701 395.4 2697.6 396.2 2692.8 397 2694.3 397.8 2695.5 398.7 2694.4 399.5 2693.6 400.3 2692.4 401.1 2694.7 402 2697.5 402.8 2696.5 403.6 2696.8 404.5 2698 405.3 2699.3 406.1 2699.6 406.9 2697.7 407.8 2697.8 408.6 2697.3 409.4 2694.5 410.2 2697.4 411.1 2703.4 411.9 2703.1 412.7 2697 413.5 2690.9 414.4 2690.7 415.2 2697.9 416 2701.6 416.8 2698 417.7 2696.9 418.5 2696.4 419.3 2694.6 420.1 2695.5 421 2695.3 421.8 2694.2 422.6 2697.8 423.4 2698.1 424.3 2696.6 425.1 2700.9 425.9 2700.5 426.7 2698.2 427.6 2699.5 428.4 2695.9 429.2 2694.7 430 2699.3 430.9 2699.7 431.7 2694.2 432.5 2694.3 433.4 2700.4 434.2 2700.5 435 2698.2 435.8 2699.3 436.7 2702.5 437.5 2703.1 438.3 2697.9 439.1 2697.1 440 2703.4 440.8 2702.5 441.6 2695 442.4 2692.7 443.3 2698 444.1 2702 444.9 2696.3 445.7 2689.3 446.6 2689.4 447.4 2696.4 448.2 2701 449 2699.3 449.9 2699.5 450.7 2696.5 451.5 2692 452.3 2696.4 453.2 2703.5 454 2701.5 454.8 2697.9 455.6 2700.5 456.5 2700.8 457.3 2701.9 458.1 2703.3 458.9 2702.9 459.8 2706.5 460.6 2707.6 461.4 2705.9 462.2 2708 463.1 2707.1 463.9 2700.4 464.7 2694.8 465.6 2696.6 466.4 2702.6 467.2 2704.2 468 2702.3 468.9 2700.4 469.7 2697.5 470.5 2696.3 471.3 2702.1 472.2 2705.3 473 2703 473.8 2702.9 474.6 2701.2 475.5 2697.4 476.3 2695.4 477.1 2696.5 477.9 2699.6 478.8 2701.5 479.6 2701.7 480.4 2700.5 481.2 2697.6 482.1 2699.5 482.9 2704.4 483.7 2704.4 484.5 2700 485.4 2698.1 486.2 2699.1 487 2696.3 487.8 2697 488.7 2700.3 489.5 2700 490.3 2702.9 491.1 2702.9 492 2699.2 492.8 2696.8 493.6 2693.6 494.5 2692.2 495.3 2687.3 496.1 2681 496.9 2676.9 497.8 2653.4 498.6 2626.9 499.4 2595.4 500.2 2557.6 501.1 2529 501.9 2502.5 502.7 2466.1 503.5 2423.3 504.4 2385.7 505.2 2381.2 506 2377 506.8 2368.5 507.7 2361.2 508.5 2355.2 509.3 2365.7 510.1 2376.1 511 2389.9 511.8 2405 512.6 2416.3 513.4 2427.2 514.3 2440.8 515.1 2458.4 515.9 2475.7 516.7 2488 517.6 2500 518.4 2512.3 519.2 2522.2 520 2533.4 520.9 2549.1 521.7 2565.9 522.5 2578.2 523.3 2588.4 524.2 2595.3 525 2599.7 525.8 2608.8 526.7 2623.1 527.5 2634.2 528.3 2633.4 529.1 2630 530 2634.4 530.8 2640.5 531.6 2645.8 532.4 2652.1 533.3 2656.1 534.1 2657.1 534.9 2657.2 535.7 2654.5 536.6 2653.5 537.4 2658.9 538.2 2662.2 539 2662.5 539.9 2663.4 540.7 2663.4 541.5 2662.4 542.3 2662.9 543.2 2662 544 2658.1 544.8 2656.6 545.6 2655.2 546.5 2655.3 547.3 2658.6 548.1 2658.7 548.9 2659.7 549.8 2663.7 550.6 2664.8 551.4 2664.3 552.2 2662.2 553.1 2663.1 553.9 2669.5 554.7 2673.8 555.6 2674.9 556.4 2674.8 557.2 2673.8 558 2667.9 558.9 2663.3 559.7 2667.5 560.5 2670.9 561.3 2670.7 562.2 2669.6 563 2665.9 563.8 2666.9 564.6 2673.1 565.5 2673.2 566.3 2666.5 567.1 2662.9 567.9 2666.2 568.8 2667.5 569.6 2668.3 570.4 2676.1 571.2 2677.2 572.1 2671 572.9 2673.5 573.7 2677.1 574.5 2671.2 575.4 2666.2 576.2 2670.2 577 2676.5 577.8 2680.8 578.7 2678 579.5 2671.3 580.3 2669 581.1 2671.5 582 2678.1 582.8 2682.3 583.6 2681.7 584.5 2681 585.3 2682 586.1 2681.1 586.9 2679.1 587.8 2681.1 588.6 2684.8 589.4 2681.4 590.2 2675.6 591.1 2677.6 591.9 2679.2 592.7 2678.1 593.5 2680 594.4 2683.3 595.2 2684.4 596 2683.1 596.8 2677.2 597.7 2672.4 598.5 2672.5 599.3 2675.1 600.1 2682.2 601 2685.2 601.8 2680.7 602.6 2678 603.4 2678.5 604.3 2678.9 605.1 2676.7 605.9 2673.1 606.7 2674 607.6 2679.1 608.4 2678.8 609.2 2677.2 610 2682.6 610.9 2686.3 611.7 2686 612.5 2683.6 613.3 2676.9 614.2 2675.5 615 2682.1 615.8 2687.4 616.7 2688.1 617.5 2687.5 618.3 2686.6 619.1 2682.8 620 2681.1 620.8 2685.2 621.6 2685.6 622.4 2683.2 623.3 2686.2 624.1 2687.7 624.9 2685.5 625.7 2685.6 626.6 2686.5 627.4 2685.1 628.2 2682.1 629 2678.9 629.9 2676.8 630.7 2675.5 631.5 2675.8 632.3 2677.1 633.2 2679.4 634 2679.9 634.8 2677.3 635.6 2675.3 636.5 2674.2 637.3 2675.3 638.1 2679.4 638.9 2681.4 639.8 2680.1 640.6 2683.4 641.4 2689.1 642.2 2690.8 643.1 2689.5 643.9 2685.5 644.7 2682.5 645.6 2685.9 646.4 2686.7 647.2 2681.2 648 2682.7 648.9 2689.8 649.7 2692.1 650.5 2689.8 651.3 2684 652.2 2676.5 653 2674.6 653.8 2680.1 654.6 2685.3 655.5 2685.6 656.3 2685.5 657.1 2688.1 657.9 2688.6 658.8 2682.6 659.6 2677.2 660.4 2680.6 661.2 2685.9 662.1 2686.6 662.9 2685.2 663.7 2682.7 664.5 2679.9 665.4 2676.6 666.2 2679.3 667 2686.8 667.8 2685 668.7 2679.7 669.5 2681.6 670.3 2684.5 671.1 2682.8 672 2678.1 672.8 2676.7 673.6 2677.9 674.4 2677.4 675.3 2682 676.1 2685.7 676.9 2682.7 677.8 2685.3 678.6 2686.5 679.4 2683.4 680.2 2685.9 681.1 2685.6 681.9 2681.4 682.7 2680.2 683.5 2684.5 684.4 2689 685.2 2689.8 686 2688.3 686.8 2685.8 687.7 2683.9 688.5 2683.5 689.3 2686.5 690.1 2688.8 691 2685.2 691.8 2678.3 692.6 2675.7 693.4 2677.8 694.3 2681.6 695.1 2686.9 695.9 2687.2 696.7 2682.8 697.6 2685.4 698.4 2691.8 699.2 2693.3 700 2689.9 700.9 2682.2 701.7 2680.7 702.5 2684.2 703.3 2684.2 704.2 2684.1 705 2681.8 705.8 2679.1 706.7 2679.8 707.5 2681.6 708.3 2687.5 709.1 2691.3 710 2687.2 710.8 2685.8 711.6 2688.8 712.4 2689.1 713.3 2690.4 714.1 2692.5 714.9 2690.5 715.7 2687.6 716.6 2684.8 717.4 2683.4 718.2 2682.3 719 2678.3 719.9 2676.3 720.7 2677.3 721.5 2679.5 722.3 2681.8 723.2 2682 724 2682.2 724.8 2684.4 725.6 2683.7 726.5 2682.3 727.3 2685 728.1 2689.8 728.9 2693.4 729.8 2693 730.6 2688.6 731.4 2683.5 732.2 2680.4 733.1 2682.2 733.9 2683.6 734.7 2678.2 735.6 2662.4 736.4 2647.5 737.2 2631.2 738 2610.3 738.9 2582.7 739.7 2539.7 740.5 2499.4 741.3 2460.7 742.2 2421.4 743 2384.2 743.8 2350.3 744.6 2315.7 745.5 2274.1 746.3 2260.1 747.1 2276.1 747.9 2288.7 748.8 2305.1 749.6 2329.1 750.4 2350.8 751.2 2368.3 752.1 2384.4 752.9 2397.3 753.7 2405.9 754.5 2418.8 755.4 2436.1 756.2 2454.7 757 2468.6 757.8 2477 758.7 2487.1 759.5 2500.6 760.3 2513.4 761.1 2523.2 762 2537.2 762.8 2550 763.6 2557.8 764.4 2562.2 765.3 2571 766.1 2585 766.9 2592.9 767.8 2601.6 768.6 2617.8 769.4 2622.1 770.2 2618 771.1 2614 771.9 2615.1 772.7 2620.5 773.5 2627.1 774.4 2630.4 775.2 2629.3 776 2630 776.8 2637.1 777.7 2641.2 778.5 2637.8 779.3 2638.5 780.1 2647.9 781 2653.9 781.8 2651.5 782.6 2646 783.4 2645.6 784.3 2650.4 785.1 2650.6 785.9 2645.9 786.7 2643.1 787.6 2642.3 788.4 2645.7 789.2 2650.9 790 2648.1 790.9 2641.3 791.7 2641.8 792.5 2645.6 793.3 2644.6 794.2 2642.5 795 2644.7 795.8 2648.7 796.7 2646.7 797.5 2644.8 798.3 2650.5 799.1 2656.6 800 2658.1 800.8 2658.6 801.6 2659.5 802.4 2656.8 803.3 2654.3 804.1 2654 804.9 2649.9 805.7 2646.2 806.6 2645.7 807.4 2646.2 808.2 2646.3 809 2644.5 809.9 2645.1 810.7 2647 811.5 2650.2 812.3 2658.3 813.2 2663.7 814 2663.5 814.8 2661.4 815.6 2658.5 816.5 2655.6 817.3 2652.5 818.1 2654.5 818.9 2660.1 819.8 2659.6 820.6 2657.4 821.4 2660.3 822.2 2661.7 823.1 2659.2 823.9 2657.5 824.7 2656.6 825.6 2654.5 826.4 2650.6 827.2 2653.4 828 2659.8 828.9 2657.4 829.7 2656.6 830.5 2662.9 831.3 2665.6 832.2 2663.4 833 2660.8 833.8 2656.4 834.6 2655.5 835.5 2661.3 836.3 2664.5 837.1 2661.8 837.9 2658 838.8 2657.3 839.6 2661.1 840.4 2665.5 841.2 2663.9 842.1 2659.8 842.9 2663.4 843.7 2668.5 844.5 2668.1 845.4 2665.7 846.2 2665.3 847 2668.6 847.8 2670.8 848.7 2669.6 849.5 2663.4 850.3 2658.1 851.1 2661.2 852 2662.5 852.8 2662 853.6 2667 854.4 2666.3 855.3 2664.3 856.1 2666.6 856.9 2664.9 857.8 2667.3 858.6 2672.2 859.4 2670.4 860.2 2667.2 861.1 2666.2 861.9 2667.9 862.7 2671.5 863.5 2668 864.4 2661.6 865.2 2663.3 866 2668.2 866.8 2671.5 867.7 2667.7 868.5 2660.5 869.3 2660.8 870.1 2667 871 2671.4 871.8 2668 872.6 2663.7 873.4 2664.6 874.3 2663.1 875.1 2660.2 875.9 2661.5 876.7 2666.6 877.6 2673.6 878.4 2673 879.2 2666.6 880 2663.7 880.9 2660.7 881.7 2658 882.5 2660.3 883.3 2662.3 884.2 2659.5 885 2657.9 885.8 2661.9 886.7 2665.9 887.5 2664.9 888.3 2662.2 889.1 2657.8 890 2658.7 890.8 2666.2 891.6 2669.1 892.4 2668.4 893.3 2667.9 894.1 2666.7 894.9 2666.4 895.7 2670.1 896.6 2670.9 897.4 2669.5 898.2 2670.4 899 2666 899.9 2658.4 900.7 2659.4 901.5 2668.3 902.3 2669.5 903.2 2660.5 904 2656.3 904.8 2662.3 905.6 2668.9 906.5 2666.4 907.3 2657.9 908.1 2658.9 908.9 2668.2 909.8 2670.1 910.6 2667.3 911.4 2664.9 912.2 2662.3 913.1 2661.5 913.9 2662.6 914.7 2665.2 915.5 2661.9 916.4 2656.2 917.2 2660.3 918 2668.9 918.9 2669.3 919.7 2664.8 920.5 2665 921.3 2666.1 922.2 2664.5 923 2660.7 923.8 2660 924.6 2664.3 925.5 2666.6 926.3 2666.8 927.1 2664.4 927.9 2664.3 928.8 2668.2 929.6 2666.5 930.4 2666.1 931.2 2668.6 932.1 2666.1 932.9 2665.4 933.7 2666 934.5 2663.4 935.4 2665.1 936.2 2670.1 937 2672 937.8 2672.9 938.7 2672 939.5 2672.5 940.3 2675 941.1 2673 942 2668.6 942.8 2664.1 943.6 2663.1 944.4 2667.2 945.3 2667.6 946.1 2663.5 946.9 2660 947.8 2658.5 948.6 2662.1 949.4 2670.6 950.2 2671.9 951.1 2669 951.9 2672.4 952.7 2671.5 953.5 2667.5 954.4 2669.2 955.2 2669.3 956 2667.9 956.8 2671 957.7 2670.5 958.5 2670.2 959.3 2675.7 960.1 2676.8 961 2673.9 961.8 2674.7 962.6 2677.4 963.4 2679.3 964.3 2682.6 965.1 2683.4 965.9 2681.9 966.7 2678.4 967.6 2674.6 968.4 2678.2 969.2 2679.6 970 2668.4 970.9 2645.2 971.7 2624.1 972.5 2598 973.3 2574.9 974.2 2550.3 975 2513.2 975.8 2478.3 976.7 2439 977.5 2396.6 978.3 2360.6 979.1 2336.2 980 2316.2 980.8 2295.4 981.6 2266.9 982.4 2234.7 983.3 2210.2 984.1 2206.7 984.9 2194.4 985.7 2176.6 986.6 2163.2 987.4 2172.1 988.2 2193.3 989 2211.4 989.9 2227.2 990.7 2242 991.5 2262.7 992.3 2288.4 993.2 2311.6 994 2333.2 994.8 2361.7 995.6 2386.3 996.5 2405.8 997.3 2424.5 998.1 2438.9 998.9 2446.4 999.8 2453.6 1000.6 2463.6 1001.4 2480.8 1002.2 2498.9 1003.1 2507.8 1003.9 2519.3 1004.7 2535.5 1005.5 2548 1006.4 2562.5 1007.2 2579.3 1008 2590.9 1008.9 2598.1 1009.7 2607.1 1010.5 2613.4 1011.3 2618.9 1012.2 2625.6 1013 2627.4 1013.8 2623.6 1014.6 2620.7 1015.5 2627 1016.3 2632 1017.1 2632.2 1017.9 2632.8 1018.8 2630.3 1019.6 2627.8 1020.4 2633.5 1021.2 2643.4 1022.1 2649 1022.9 2648.5 1023.7 2648.8 1024.5 2649.1 1025.4 2646.5 1026.2 2645.7 1027 2651.2 1027.8 2652.3 1028.7 2648.2 1029.5 2643.8 1030.3 2640.8 1031.1 2641.4 1032 2643 1032.8 2642.4 1033.6 2638.8 1034.4 2638.6 1035.3 2645 1036.1 2648.7 1036.9 2646.9 1037.8 2641.3 1038.6 2637.6 1039.4 2639.8 1040.2 2640 1041.1 2636.9 1041.9 2638.8 1042.7 2643.7 1043.5 2644.4 1044.4 2647.8 1045.2 2650.8 1046 2645.8 1046.8 2642.7 1047.7 2648.4 1048.5 2651.5 1049.3 2648.3 1050.1 2649.2 1051 2650 1051.8 2651.1 1052.6 2655.9 1053.4 2658.1 1054.3 2660.4 1055.1 2664.5 1055.9 2663.4 1056.7 2658.7 1057.6 2656.8 1058.4 2658 1059.2 2663.3 1060 2666 1060.9 2661.8 1061.7 2654.8 1062.5 2651.7 1063.3 2653.7 1064.2 2660 1065 2665.1 1065.8 2665 1066.6 2666.7 1067.5 2667.1 1068.3 2663.8 1069.1 2665 1070 2666.5 1070.8 2660.6 1071.6 2653.6 1072.4 2653.9 1073.3 2661.5 1074.1 2664.6 1074.9 2663 1075.7 2664.3 1076.6 2666 1077.4 2663.7 1078.2 2658.6 1079 2659.3 1079.9 2664.1 1080.7 2665.1 1081.5 2660.6 1082.3 2657.4 1083.2 2662.6 1084 2666.5 1084.8 2662 1085.6 2658.8 1086.5 2661.3 1087.3 2659.9 1088.1 2658.7 1088.9 2661.1 1089.8 2660.6 1090.6 2663.4 1091.4 2670 1092.2 2668.2 1093.1 2661.4 1093.9 2661.9 1094.7 2662.3 1095.5 2659 1096.4 2660.7 1097.2 2664.8 1098 2665.1 1098.9 2664 1099.7 2665.8 1100.5 2664.5 1101.3 2661 1102.2 2663.9 1103 2669.8 1103.8 2668.9 1104.6 2662.8 1105.5 2663.3 1106.3 2665.2 1107.1 2663.6 1107.9 2668.2 1108.8 2673.2 1109.6 2672 1110.4 2667.4 1111.2 2662.1 1112.1 2662.5 1112.9 2666.1 1113.7 2667.4 1114.5 2668.4 1115.4 2668.3 1116.2 2668.9 1117 2671.3 1117.8 2670.5 1118.7 2668.1 1119.5 2667.5 1120.3 2666.1 1121.1 2665.9 1122 2665.3 1122.8 2664.2 1123.6 2663.5 1124.4 2659.8 1125.3 2660.8 1126.1 2667.4 1126.9 2667.1 1127.8 2664.7 1128.6 2668.2 1129.4 2668.9 1130.2 2663.9 1131.1 2662.2 1131.9 2665.4 1132.7 2663.4 1133.5 2659.2 1134.4 2662.8 1135.2 2665.7 1136 2662.5 1136.8 2661 1137.7 2659.3 1138.5 2659.5 1139.3 2660.7 1140.1 2658.1 1141 2659.2 1141.8 2663.7" fill="none" stroke="#17b6cd" stroke-width="9" stroke-linejoin="round" stroke-linecap="round" clip-path="url(#clp5)"/>
<text x="191.1" y="2069" font-size="60" fill="#18b8d0">Wrist bending</text>
<rect x="161.7" y="1977.7" width="980.5" height="788" fill="none" stroke="#000" stroke-width="5.6"/>
<path d="M161.7 2765.7V2751.9M316.5 2765.7V2751.9M471.3 2765.7V2751.9M626.1 2765.7V2751.9M781 2765.7V2751.9M935.8 2765.7V2751.9M1090.6 2765.7V2751.9M161.7 2719.3H175.5M161.7 2533.9H175.5M161.7 2348.5H175.5M161.7 2163.1H175.5M161.7 1977.7H175.5M161.7 2626.6H168.7M161.7 2441.2H168.7M161.7 2255.8H168.7M161.7 2070.4H168.7" stroke="#000" stroke-width="4.6" fill="none"/>
<text x="161.7" y="2823.7" text-anchor="middle" font-size="55">0</text>
<text x="316.5" y="2823.7" text-anchor="middle" font-size="55">15</text>
<text x="471.3" y="2823.7" text-anchor="middle" font-size="55">30</text>
<text x="626.1" y="2823.7" text-anchor="middle" font-size="55">45</text>
<text x="781" y="2823.7" text-anchor="middle" font-size="55">60</text>
<text x="935.8" y="2823.7" text-anchor="middle" font-size="55">75</text>
<text x="1090.6" y="2823.7" text-anchor="middle" font-size="55">90</text>
<text x="142.4" y="2735.3" text-anchor="end" font-size="55">0</text>
<text x="142.4" y="2549.9" text-anchor="end" font-size="55">20</text>
<text x="142.4" y="2364.5" text-anchor="end" font-size="55">40</text>
<text x="142.4" y="2179.1" text-anchor="end" font-size="55">60</text>
<text x="142.4" y="1993.7" text-anchor="end" font-size="55">80</text>
<text transform="translate(70 2371.5) rotate(-90)" text-anchor="middle" font-size="55">&#916;<tspan font-style="italic">R</tspan><tspan font-style="italic">/R</tspan><tspan font-size="38.5" dy="12.1">0</tspan><tspan dy="-12.1"> (%)</tspan></text>
<text x="651.9" y="2872.8" text-anchor="middle" font-size="55">Time (s)</text>
<rect x="1382" y="1983" width="965.8000000000002" height="777.1999999999998" fill="url(#bgF)"/>
<rect x="1395.5" y="2252.9" width="262.1" height="159.8" fill="url(#sbg)" />
<polygon points="1425.7,2252.9 1531.6,2252.9 1518.8,2293.1 1507.9,2304 1480.5,2313.2 1462.2,2307.7 1443.9,2289.4 1433,2265.7" fill="url(#skin2)"/>
<polygon points="1411.1,2252.9 1425.7,2252.9 1433,2265.7 1443.9,2289.4 1462.2,2307.7 1480.5,2313.2 1507.9,2304 1518.8,2293.1 1531.6,2252.9 1562.6,2252.9 1571.8,2265.7 1590,2280.3 1599.2,2307.7 1635.7,2329.6 1654,2347.9 1652.1,2366.1 1632.1,2380.7 1599.2,2389.9 1571.8,2389.9 1544.4,2380.7 1507.9,2362.5 1471.3,2347.9 1434.8,2329.6 1409.2,2307.7 1407.4,2283.9" fill="url(#shoe)"/>
<polygon points="1400.1,2298.5 1409.2,2305.8 1434.8,2327.8 1471.3,2346 1507.9,2360.6 1544.4,2378.9 1571.8,2388.9 1599.2,2388.9 1621.1,2395.3 1580.9,2402.6 1553.5,2398.1 1507.9,2380.7 1471.3,2366.1 1434.8,2351.5 1401.9,2333.2 1396.4,2315" fill="#eeebe4"/>
<polygon points="1445.8,2318.6 1498.7,2329.6 1535.3,2327.8 1562.6,2344.2 1526.1,2347.9 1522.5,2358.8 1507.9,2347.9 1489.6,2336.9 1453.1,2325.9" fill="#9ea49a"/>
<polyline points="1562.6,2254.7 1591.9,2282.1" fill="none" stroke="#1a1e22" stroke-width="3"/>
<polyline points="1538.9,2263.8 1571.8,2296.7" fill="none" stroke="#1a1e22" stroke-width="3"/>
<rect x="2082.3" y="1993.7" width="251.7" height="157.5" fill="url(#sbg)" />
<polygon points="2162.7,1993.7 2265.5,1993.7 2265.5,2014.2 2256.9,2048.5 2239.8,2067.3 2205.5,2069 2179.9,2051.9" fill="url(#skin2)"/>
<polygon points="2119.9,2009.1 2137.1,1997.1 2162.7,1993.7 2179.9,2051.9 2205.5,2069 2239.8,2067.3 2256.9,2048.5 2265.5,2017.7 2282.6,2031.4 2291.2,2062.2 2316.8,2082.7 2325.4,2099.9 2316.8,2120.4 2291.2,2134.1 2256.9,2139.2 2231.2,2134.1 2197,2117 2162.7,2099.9 2137.1,2075.9 2121.6,2048.5" fill="url(#shoe)"/>
<polygon points="2092.5,2031.4 2119.9,2009.1 2121.6,2048.5 2137.1,2075.9 2162.7,2099.9 2197,2117 2231.2,2134.1 2256.9,2139.2 2239.8,2147 2205.5,2134.1 2162.7,2113.6 2128.5,2091.3 2102.8,2065.6 2092.5,2048.5" fill="#eeebe4"/>
<polygon points="2162.7,2065.6 2214.1,2089.6 2256.9,2091.3 2231.2,2103.3 2214.1,2110.1 2188.4,2089.6 2166.2,2075.9" fill="#9ea49a"/>
<polyline points="2289.5,2005.7 2280.9,2031.4 2292.9,2043.4" fill="none" stroke="#1a1e22" stroke-width="3"/>
<path d="M1382 2671.8 1382.7 2673 1383.4 2676.7 1384.1 2681.2 1384.8 2681.6 1385.4 2678 1386.1 2675.7 1386.8 2675.8 1387.5 2676.2 1388.2 2676.7 1388.9 2677 1389.6 2675 1390.3 2674.8 1391 2677.3 1391.7 2677.1 1392.3 2677.5 1393 2679.6 1393.7 2677.6 1394.4 2676.3 1395.1 2677.6 1395.8 2675.9 1396.5 2674.1 1397.2 2675.7 1397.9 2680.5 1398.6 2682 1399.2 2677.2 1399.9 2675.9 1400.6 2680.6 1401.3 2684.9 1402 2683.9 1402.7 2681.4 1403.4 2679.9 1404.1 2677.5 1404.8 2679.6 1405.5 2682.7 1406.1 2682 1406.8 2680.3 1407.5 2677 1408.2 2676.7 1408.9 2679.8 1409.6 2680.4 1410.3 2678.8 1411 2676.9 1411.7 2678.9 1412.4 2684.8 1413 2684.9 1413.7 2682.6 1414.4 2682.8 1415.1 2683.7 1415.8 2683.3 1416.5 2680.2 1417.2 2681.5 1417.9 2684.1 1418.6 2682.6 1419.3 2683.7 1419.9 2684.8 1420.6 2684.3 1421.3 2685.6 1422 2683.6 1422.7 2678.4 1423.4 2679.9 1424.1 2683.1 1424.8 2682.6 1425.5 2684.4 1426.2 2682.5 1426.8 2677.4 1427.5 2678.6 1428.2 2682.1 1428.9 2682.7 1429.6 2683.3 1430.3 2681.7 1431 2679.3 1431.7 2682 1432.4 2681.4 1433 2678.5 1433.7 2677.5 1434.4 2677.1 1435.1 2676.3 1435.8 2672.2 1436.5 2669.4 1437.2 2669.3 1437.9 2668.8 1438.6 2668.6 1439.3 2668 1439.9 2668.5 1440.6 2671.9 1441.3 2673.1 1442 2673.2 1442.7 2676.7 1443.4 2678.6 1444.1 2677 1444.8 2678 1445.5 2677.6 1446.2 2677.4 1446.8 2682.6 1447.5 2686.7 1448.2 2684.4 1448.9 2680.9 1449.6 2681.2 1450.3 2682.1 1451 2678.8 1451.7 2676.7 1452.4 2679.6 1453.1 2679.1 1453.7 2675.5 1454.4 2677.1 1455.1 2680.2 1455.8 2679.8 1456.5 2680.2 1457.2 2682 1457.9 2681.6 1458.6 2679.2 1459.3 2677.4 1460 2678.1 1460.6 2676 1461.3 2672.3 1462 2673.8 1462.7 2677.7 1463.4 2679.4 1464.1 2680.6 1464.8 2680.9 1465.5 2678.6 1466.2 2675.1 1466.9 2675.4 1467.5 2681.6 1468.2 2684.9 1468.9 2683.2 1469.6 2683.9 1470.3 2681.8 1471 2677.6 1471.7 2676.6 1472.4 2674.9 1473.1 2672.1 1473.8 2668.3 1474.4 2669 1475.1 2674.7 1475.8 2670.6 1476.5 2662 1477.2 2659.4 1477.9 2657.8 1478.6 2652.4 1479.3 2648.9 1480 2648.5 1480.6 2648.5 1481.3 2647.5 1482 2644.7 1482.7 2640.3 1483.4 2632 1484.1 2626.7 1484.8 2623.4 1485.5 2618.2 1486.2 2615.3 1486.9 2609.9 1487.5 2600.8 1488.2 2592.9 1488.9 2582.8 1489.6 2574.7 1490.3 2569.4 1491 2562.7 1491.7 2554 1492.4 2546.8 1493.1 2536 1493.8 2526.1 1494.4 2519.7 1495.1 2516.5 1495.8 2514.1 1496.5 2508.4 1497.2 2504.1 1497.9 2509.3 1498.6 2509 1499.3 2511.4 1500 2517.6 1500.7 2532.2 1501.3 2548.5 1502 2563.6 1502.7 2572.8 1503.4 2582.7 1504.1 2587.9 1504.8 2587.5 1505.5 2591.2 1506.2 2593.5 1506.9 2596 1507.6 2596.8 1508.2 2596.8 1508.9 2597 1509.6 2597.9 1510.3 2601.1 1511 2607.6 1511.7 2609.1 1512.4 2604.8 1513.1 2604.9 1513.8 2612.2 1514.5 2619.8 1515.1 2623.5 1515.8 2626.1 1516.5 2627.5 1517.2 2625.4 1517.9 2626.1 1518.6 2630.1 1519.3 2636.4 1520 2645.2 1520.7 2646.2 1521.4 2644.4 1522 2645 1522.7 2644.3 1523.4 2643 1524.1 2644.9 1524.8 2648.3 1525.5 2648.2 1526.2 2646.5 1526.9 2646.7 1527.6 2646.2 1528.2 2646.7 1528.9 2648.5 1529.6 2648.1 1530.3 2646.8 1531 2648 1531.7 2651 1532.4 2651.1 1533.1 2647.6 1533.8 2646.1 1534.5 2650.7 1535.1 2655.1 1535.8 2656 1536.5 2655.5 1537.2 2652.3 1537.9 2650.3 1538.6 2653 1539.3 2656.8 1540 2657.3 1540.7 2656.2 1541.4 2655.9 1542 2653.7 1542.7 2650.9 1543.4 2651.9 1544.1 2652.9 1544.8 2652.5 1545.5 2653.1 1546.2 2654.9 1546.9 2657.5 1547.6 2656.5 1548.3 2657.1 1548.9 2661.6 1549.6 2663.1 1550.3 2665.5 1551 2670.2 1551.7 2669.7 1552.4 2667.4 1553.1 2668.2 1553.8 2668 1554.5 2669 1555.2 2670.3 1555.8 2669.4 1556.5 2665 1557.2 2662.7 1557.9 2664.5 1558.6 2662 1559.3 2659.7 1560 2662.3 1560.7 2661.9 1561.4 2658 1562.1 2659.6 1562.7 2663.7 1563.4 2665.7 1564.1 2669.1 1564.8 2668.7 1565.5 2666.2 1566.2 2667.6 1566.9 2665.8 1567.6 2664.8 1568.3 2666.9 1569 2668 1569.6 2670.8 1570.3 2674.5 1571 2676.6 1571.7 2675.7 1572.4 2671.9 1573.1 2670.2 1573.8 2673.3 1574.5 2677 1575.2 2678.1 1575.8 2677.5 1576.5 2675 1577.2 2672.5 1577.9 2672.3 1578.6 2674.2 1579.3 2675.6 1580 2678.3 1580.7 2681.6 1581.4 2682.8 1582.1 2684.2 1582.7 2684.9 1583.4 2682.2 1584.1 2680.3 1584.8 2680.9 1585.5 2677.3 1586.2 2675.6 1586.9 2678.2 1587.6 2680.5 1588.3 2685.2 1589 2688.4 1589.6 2689 1590.3 2689.5 1591 2686.4 1591.7 2683 1592.4 2683.8 1593.1 2684.1 1593.8 2685.4 1594.5 2686.9 1595.2 2685.7 1595.9 2682.8 1596.5 2679.2 1597.2 2679.6 1597.9 2680.1 1598.6 2678.9 1599.3 2678.7 1600 2680.3 1600.7 2682.9 1601.4 2681.3 1602.1 2678.1 1602.8 2679.4 1603.4 2679.6 1604.1 2677.3 1604.8 2677.1 1605.5 2676.4 1606.2 2678.2 1606.9 2683.8 1607.6 2687.3 1608.3 2686.4 1609 2684.6 1609.7 2684.2 1610.3 2685.5 1611 2684.2 1611.7 2683.2 1612.4 2683.2 1613.1 2680.5 1613.8 2680.7 1614.5 2682.8 1615.2 2678.8 1615.9 2675.3 1616.6 2677 1617.2 2681 1617.9 2683.6 1618.6 2683.1 1619.3 2678.8 1620 2675 1620.7 2677.9 1621.4 2681.1 1622.1 2680.3 1622.8 2678 1623.5 2673.1 1624.1 2668.3 1624.8 2669.2 1625.5 2673.7 1626.2 2675.2 1626.9 2672.1 1627.6 2666.2 1628.3 2664.2 1629 2664.7 1629.7 2663.5 1630.3 2663.6 1631 2663.8 1631.7 2665 1632.4 2650.1 1633.1 2631.5 1633.8 2616.7 1634.5 2603.8 1635.2 2589.1 1635.9 2574.8 1636.6 2563.2 1637.2 2554.1 1637.9 2542.3 1638.6 2525.8 1639.3 2507.1 1640 2492.3 1640.7 2481 1641.4 2467.9 1642.1 2457.6 1642.8 2444.3 1643.5 2434.3 1644.1 2426.2 1644.8 2421.1 1645.5 2428.3 1646.2 2439.3 1646.9 2446.5 1647.6 2458.1 1648.3 2466.6 1649 2479 1649.7 2497.7 1650.4 2512.2 1651 2512.7 1651.7 2514.7 1652.4 2521.2 1653.1 2530.9 1653.8 2538.2 1654.5 2541.3 1655.2 2544.4 1655.9 2548.4 1656.6 2555.2 1657.3 2560.9 1657.9 2566.8 1658.6 2574.5 1659.3 2583.3 1660 2595.7 1660.7 2600.5 1661.4 2601.4 1662.1 2604.3 1662.8 2605.6 1663.5 2611.3 1664.2 2619.5 1664.8 2621 1665.5 2621.3 1666.2 2625.5 1666.9 2631.3 1667.6 2635.9 1668.3 2638.1 1669 2641.2 1669.7 2646.4 1670.4 2652.3 1671.1 2655.8 1671.7 2659.8 1672.4 2663.9 1673.1 2666.3 1673.8 2663.4 1674.5 2662.8 1675.2 2667.3 1675.9 2670.4 1676.6 2669.5 1677.3 2664.3 1677.9 2661.5 1678.6 2664.9 1679.3 2669.6 1680 2673.7 1680.7 2672.5 1681.4 2667 1682.1 2662.9 1682.8 2661.4 1683.5 2663.5 1684.2 2668.4 1684.8 2670.5 1685.5 2669.7 1686.2 2669.3 1686.9 2667 1687.6 2665.1 1688.3 2665.1 1689 2663.6 1689.7 2667.2 1690.4 2671.8 1691.1 2669.8 1691.7 2668.5 1692.4 2672.6 1693.1 2675.1 1693.8 2672.7 1694.5 2672.8 1695.2 2676.4 1695.9 2680.6 1696.6 2684.2 1697.3 2684.4 1698 2682.7 1698.6 2682 1699.3 2683.5 1700 2682.4 1700.7 2677.5 1701.4 2674.4 1702.1 2676.1 1702.8 2679.1 1703.5 2678.4 1704.2 2679.8 1704.9 2681.5 1705.5 2679.5 1706.2 2681.5 1706.9 2685.5 1707.6 2683.3 1708.3 2680.3 1709 2682.7 1709.7 2683.9 1710.4 2682.9 1711.1 2682.8 1711.8 2683.8 1712.4 2686.1 1713.1 2685.3 1713.8 2682.6 1714.5 2682 1715.2 2683.6 1715.9 2685.3 1716.6 2682.4 1717.3 2680.4 1718 2682.7 1718.7 2682.9 1719.3 2683.3 1720 2687.6 1720.7 2687.3 1721.4 2684.4 1722.1 2686.8 1722.8 2689.1 1723.5 2686.6 1724.2 2683.8 1724.9 2683.7 1725.5 2686 1726.2 2690.2 1726.9 2690.8 1727.6 2688.6 1728.3 2688.3 1729 2687.5 1729.7 2689.2 1730.4 2693.3 1731.1 2693.5 1731.8 2690.1 1732.4 2689.5 1733.1 2691.7 1733.8 2693.6 1734.5 2694.3 1735.2 2693 1735.9 2691.2 1736.6 2689.5 1737.3 2686.3 1738 2683.8 1738.7 2683.8 1739.3 2686.1 1740 2689 1740.7 2688.1 1741.4 2684.6 1742.1 2684.9 1742.8 2690.7 1743.5 2695.2 1744.2 2693.9 1744.9 2688.3 1745.6 2686.4 1746.2 2688.3 1746.9 2686.6 1747.6 2684.2 1748.3 2682.8 1749 2684.9 1749.7 2688.5 1750.4 2688.9 1751.1 2691.6 1751.8 2693.3 1752.5 2690.6 1753.1 2690.5 1753.8 2692.8 1754.5 2693.2 1755.2 2693.4 1755.9 2694.3 1756.6 2695.1 1757.3 2695 1758 2693.3 1758.7 2691.1 1759.4 2688.7 1760 2686.4 1760.7 2686.4 1761.4 2688.5 1762.1 2689.2 1762.8 2689.2 1763.5 2691.6 1764.2 2693.8 1764.9 2692 1765.6 2689.9 1766.3 2691.6 1766.9 2691.7 1767.6 2688.5 1768.3 2684.9 1769 2682.7 1769.7 2681.9 1770.4 2682.9 1771.1 2682.4 1771.8 2677.9 1772.5 2670.3 1773.1 2666.5 1773.8 2659.8 1774.5 2652.8 1775.2 2635.7 1775.9 2614 1776.6 2593.9 1777.3 2578.8 1778 2570.4 1778.7 2558.5 1779.4 2545.6 1780 2536.8 1780.7 2527.1 1781.4 2515.1 1782.1 2503.6 1782.8 2492 1783.5 2483.6 1784.2 2475.8 1784.9 2466.7 1785.6 2456.4 1786.3 2448.2 1786.9 2438.9 1787.6 2427.3 1788.3 2418.8 1789 2408.4 1789.7 2397.1 1790.4 2389.5 1791.1 2381.5 1791.8 2369.2 1792.5 2375.8 1793.2 2385.6 1793.8 2391.2 1794.5 2401.6 1795.2 2414.5 1795.9 2425 1796.6 2434.9 1797.3 2439.7 1798 2446.7 1798.7 2457.7 1799.4 2468.1 1800.1 2473.4 1800.7 2477.6 1801.4 2487.7 1802.1 2497.9 1802.8 2504.3 1803.5 2512.2 1804.2 2519.8 1804.9 2525.2 1805.6 2533.4 1806.3 2541.8 1807 2549.4 1807.6 2557.4 1808.3 2564.7 1809 2575.7 1809.7 2587.8 1810.4 2596.5 1811.1 2604.5 1811.8 2611.7 1812.5 2621.8 1813.2 2634.9 1813.9 2644 1814.5 2650.4 1815.2 2654.6 1815.9 2657.7 1816.6 2657.2 1817.3 2661.9 1818 2666.4 1818.7 2665.1 1819.4 2661.8 1820.1 2661.6 1820.7 2661 1821.4 2659.7 1822.1 2663 1822.8 2664.1 1823.5 2662.5 1824.2 2667.2 1824.9 2670.9 1825.6 2666.7 1826.3 2662.2 1827 2664.2 1827.6 2667.3 1828.3 2667.7 1829 2666.2 1829.7 2663.7 1830.4 2664.8 1831.1 2668.9 1831.8 2668.8 1832.5 2665.1 1833.2 2665.1 1833.9 2668.2 1834.5 2668 1835.2 2664.8 1835.9 2663.9 1836.6 2663.7 1837.3 2664.5 1838 2668.7 1838.7 2670.6 1839.4 2666.2 1840.1 2666.5 1840.8 2673.5 1841.4 2674.5 1842.1 2669.8 1842.8 2669.6 1843.5 2670.6 1844.2 2669.9 1844.9 2672.3 1845.6 2672.8 1846.3 2672.4 1847 2672.9 1847.7 2671.9 1848.3 2671.3 1849 2669.8 1849.7 2671.9 1850.4 2677.2 1851.1 2677.1 1851.8 2675.2 1852.5 2675.5 1853.2 2676.9 1853.9 2680.5 1854.6 2681 1855.2 2678.9 1855.9 2680.1 1856.6 2681 1857.3 2679 1858 2676.7 1858.7 2676.1 1859.4 2677.2 1860.1 2679 1860.8 2678.5 1861.5 2675.6 1862.1 2674 1862.8 2674 1863.5 2675.1 1864.2 2679.6 1864.9 2683 1865.6 2683 1866.3 2684.6 1867 2686.2 1867.7 2687.1 1868.3 2688.4 1869 2687.9 1869.7 2688.4 1870.4 2688.6 1871.1 2685.8 1871.8 2683 1872.5 2684.2 1873.2 2686.1 1873.9 2685.8 1874.6 2687.3 1875.2 2689.1 1875.9 2689.7 1876.6 2691.5 1877.3 2690 1878 2685 1878.7 2684.2 1879.4 2685.2 1880.1 2685.5 1880.8 2685.8 1881.5 2687.6 1882.1 2691.8 1882.8 2691.7 1883.5 2687.5 1884.2 2687.8 1884.9 2690.8 1885.6 2690.4 1886.3 2685.7 1887 2680 1887.7 2681.4 1888.4 2687 1889 2687.3 1889.7 2686.8 1890.4 2687.8 1891.1 2684.2 1891.8 2677.7 1892.5 2677.9 1893.2 2681.4 1893.9 2682.5 1894.6 2683.6 1895.3 2684.4 1895.9 2684.4 1896.6 2682.2 1897.3 2678.4 1898 2677 1898.7 2677.3 1899.4 2679 1900.1 2681.6 1900.8 2682.8 1901.5 2685.2 1902.2 2684.2 1902.8 2681.1 1903.5 2683.8 1904.2 2685.2 1904.9 2684.5 1905.6 2682.8 1906.3 2678.1 1907 2677.7 1907.7 2680.4 1908.4 2679.3 1909.1 2679.5 1909.7 2682.2 1910.4 2679.6 1911.1 2676.3 1911.8 2677.9 1912.5 2680.7 1913.2 2683.6 1913.9 2685.3 1914.6 2684.8 1915.3 2683.4 1915.9 2681.1 1916.6 2679.8 1917.3 2683 1918 2683 1918.7 2666.9 1919.4 2656.4 1920.1 2645.7 1920.8 2632.5 1921.5 2622.7 1922.2 2611 1922.8 2580.3 1923.5 2551.8 1924.2 2522.3 1924.9 2490.6 1925.6 2463.1 1926.3 2446.3 1927 2426.8 1927.7 2407.8 1928.4 2388.1 1929.1 2369.5 1929.7 2350.6 1930.4 2339.7 1931.1 2329.7 1931.8 2317.7 1932.5 2307.7 1933.2 2300.5 1933.9 2291.5 1934.6 2297.1 1935.3 2302.3 1936 2307 1936.6 2332.7 1937.3 2362.6 1938 2386.9 1938.7 2408 1939.4 2422.8 1940.1 2435.8 1940.8 2447.6 1941.5 2464.5 1942.2 2482.6 1942.9 2494 1943.5 2499.1 1944.2 2511.2 1944.9 2517.2 1945.6 2516.8 1946.3 2520.7 1947 2527.2 1947.7 2533.3 1948.4 2542.2 1949.1 2552.5 1949.8 2561.3 1950.4 2566 1951.1 2567.2 1951.8 2569.1 1952.5 2575.6 1953.2 2588.1 1953.9 2598.2 1954.6 2601.4 1955.3 2605.8 1956 2613.8 1956.7 2619.6 1957.3 2625.5 1958 2635.3 1958.7 2638.5 1959.4 2638.3 1960.1 2638.5 1960.8 2641.4 1961.5 2645.9 1962.2 2646.8 1962.9 2645.8 1963.5 2647.2 1964.2 2649.1 1964.9 2652.2 1965.6 2652.3 1966.3 2650.9 1967 2650.3 1967.7 2650.1 1968.4 2654.2 1969.1 2658.3 1969.8 2658.1 1970.4 2658.5 1971.1 2658.8 1971.8 2659.3 1972.5 2662.8 1973.2 2663.1 1973.9 2663 1974.6 2668.4 1975.3 2671.5 1976 2668 1976.7 2664 1977.3 2662.6 1978 2663.2 1978.7 2667.2 1979.4 2669.7 1980.1 2668.5 1980.8 2672.1 1981.5 2674.5 1982.2 2673.1 1982.9 2675.1 1983.6 2676.4 1984.2 2671.8 1984.9 2667.5 1985.6 2667.8 1986.3 2665.6 1987 2665.5 1987.7 2671.8 1988.4 2675.4 1989.1 2673.2 1989.8 2669.2 1990.5 2668.7 1991.1 2669.9 1991.8 2670.8 1992.5 2675.2 1993.2 2677.4 1993.9 2673.7 1994.6 2669.1 1995.3 2666.1 1996 2664.8 1996.7 2664.7 1997.4 2666 1998 2669.7 1998.7 2674.6 1999.4 2676.6 2000.1 2672.5 2000.8 2668.2 2001.5 2669.3 2002.2 2672 2002.9 2671.6 2003.6 2669 2004.3 2668 2004.9 2670.1 2005.6 2671 2006.3 2668.7 2007 2671.3 2007.7 2675.6 2008.4 2674.6 2009.1 2677.7 2009.8 2682 2010.5 2681.6 2011.1 2682.5 2011.8 2681.2 2012.5 2677 2013.2 2678.6 2013.9 2680.2 2014.6 2678.6 2015.3 2680 2016 2681 2016.7 2680.4 2017.4 2679.3 2018 2678.6 2018.7 2679 2019.4 2677.7 2020.1 2678.4 2020.8 2680.7 2021.5 2679.3 2022.2 2677.8 2022.9 2680.5 2023.6 2682.7 2024.3 2684 2024.9 2686.4 2025.6 2685.2 2026.3 2679.7 2027 2678 2027.7 2681.3 2028.4 2681 2029.1 2680.6 2029.8 2684.7 2030.5 2684.3 2031.2 2681.7 2031.8 2684 2032.5 2685 2033.2 2683.9 2033.9 2685.6 2034.6 2688.2 2035.3 2686.1 2036 2679.8 2036.7 2680.1 2037.4 2686.6 2038.1 2688.7 2038.7 2686.2 2039.4 2683.1 2040.1 2682.4 2040.8 2686.8 2041.5 2688.7 2042.2 2687 2042.9 2689.9 2043.6 2692.6 2044.3 2690 2045 2684.6 2045.6 2684 2046.3 2687.8 2047 2688.3 2047.7 2688.1 2048.4 2688.8 2049.1 2689.3 2049.8 2690.4 2050.5 2691.4 2051.2 2694.7 2051.9 2697.4 2052.5 2697.4 2053.2 2694 2053.9 2690.4 2054.6 2691.6 2055.3 2694 2056 2694.2 2056.7 2690.3 2057.4 2688.2 2058.1 2688.2 2058.7 2690 2059.4 2693.8 2060.1 2694.5 2060.8 2693.5 2061.5 2693.3 2062.2 2696.6 2062.9 2697.1 2063.6 2694.3 2064.3 2690.8 2065 2689.7 2065.6 2689.2 2066.3 2687.3 2067 2685.5 2067.7 2680.2 2068.4 2679.1 2069.1 2684.4 2069.8 2667 2070.5 2646.3 2071.2 2625.9 2071.9 2605.1 2072.5 2583 2073.2 2561.3 2073.9 2542.2 2074.6 2522.2 2075.3 2499.6 2076 2481 2076.7 2463 2077.4 2414 2078.1 2365.8 2078.8 2317.1 2079.4 2292.5 2080.1 2268.5 2080.8 2241.3 2081.5 2249.1 2082.2 2259.3 2082.9 2263 2083.6 2263.9 2084.3 2276.4 2085 2290.2 2085.7 2303.9 2086.3 2317.4 2087 2332.9 2087.7 2334.9 2088.4 2332.2 2089.1 2330 2089.8 2333.1 2090.5 2336.8 2091.2 2349.6 2091.9 2360.5 2092.6 2376.8 2093.2 2397.6 2093.9 2414.2 2094.6 2427.2 2095.3 2463.9 2096 2500.5 2096.7 2538.8 2097.4 2574 2098.1 2605.5 2098.8 2610.4 2099.5 2617.9 2100.1 2620.9 2100.8 2623.9 2101.5 2625.9 2102.2 2625.7 2102.9 2630.5 2103.6 2641 2104.3 2641.2 2105 2637.2 2105.7 2637.4 2106.4 2635.9 2107 2635.2 2107.7 2636.5 2108.4 2637.6 2109.1 2637.8 2109.8 2634.8 2110.5 2635.2 2111.2 2640.9 2111.9 2643.6 2112.6 2642.8 2113.2 2642 2113.9 2639.3 2114.6 2638.2 2115.3 2639.5 2116 2640.1 2116.7 2642.9 2117.4 2643.6 2118.1 2640.6 2118.8 2638.9 2119.5 2638.8 2120.1 2641.9 2120.8 2643.9 2121.5 2643.5 2122.2 2647.3 2122.9 2650.5 2123.6 2646.4 2124.3 2644 2125 2646.1 2125.7 2643.9 2126.4 2642.1 2127 2643.6 2127.7 2646.1 2128.4 2648.9 2129.1 2646.4 2129.8 2641.7 2130.5 2642.9 2131.2 2647.3 2131.9 2649.1 2132.6 2649.8 2133.3 2650.6 2133.9 2651.6 2134.6 2650 2135.3 2648.6 2136 2652.8 2136.7 2653.7 2137.4 2648.4 2138.1 2645.2 2138.8 2648 2139.5 2652 2140.2 2649.3 2140.8 2644.3 2141.5 2646 2142.2 2648.8 2142.9 2645.3 2143.6 2645.6 2144.3 2649.9 2145 2650.4 2145.7 2653.8 2146.4 2656.4 2147.1 2651.7 2147.7 2646.6 2148.4 2648.7 2149.1 2651.7 2149.8 2650.9 2150.5 2650.9 2151.2 2650.4 2151.9 2650.2 2152.6 2651.2 2153.3 2651.7 2154 2651.6 2154.6 2650.2 2155.3 2649.7 2156 2650.7 2156.7 2651.3 2157.4 2654.6 2158.1 2657.7 2158.8 2654.2 2159.5 2651.9 2160.2 2654.9 2160.8 2656.2 2161.5 2656.3 2162.2 2659 2162.9 2659.9 2163.6 2659.6 2164.3 2660.5 2165 2659.5 2165.7 2658.3 2166.4 2658.5 2167.1 2658.4 2167.7 2656.9 2168.4 2654.4 2169.1 2654.8 2169.8 2657.3 2170.5 2659.1 2171.2 2661.9 2171.9 2663.4 2172.6 2662.5 2173.3 2663.1 2174 2662.5 2174.6 2660.2 2175.3 2661.5 2176 2663.6 2176.7 2660.2 2177.4 2658.5 2178.1 2661.3 2178.8 2662.3 2179.5 2662.3 2180.2 2659.9 2180.9 2656.5 2181.5 2655.8 2182.2 2659.2 2182.9 2662.3 2183.6 2663.1 2184.3 2664.1 2185 2662 2185.7 2659.2 2186.4 2659.8 2187.1 2661.5 2187.8 2661.6 2188.4 2664.7 2189.1 2666.4 2189.8 2664.3 2190.5 2665.3 2191.2 2664.4 2191.9 2662.2 2192.6 2662.4 2193.3 2661.5 2194 2660.3 2194.7 2664.8 2195.3 2670 2196 2667.6 2196.7 2663.7 2197.4 2665.7 2198.1 2669.8 2198.8 2670.5 2199.5 2669 2200.2 2671.8 2200.9 2677.8 2201.6 2679.3 2202.2 2679.8 2202.9 2680.8 2203.6 2676.4 2204.3 2674.7 2205 2675.6 2205.7 2672 2206.4 2668.8 2207.1 2671.9 2207.8 2674.5 2208.4 2671.7 2209.1 2670.1 2209.8 2670.7 2210.5 2668.1 2211.2 2668.2 2211.9 2670.7 2212.6 2670.4 2213.3 2669.3 2214 2666.8 2214.7 2666.6 2215.3 2666.4 2216 2662.1 2216.7 2660.1 2217.4 2659.9 2218.1 2656.5 2218.8 2654.7 2219.5 2653.7 2220.2 2652 2220.9 2652.9 2221.6 2638.6 2222.2 2621.7 2222.9 2599 2223.6 2575.5 2224.3 2555.1 2225 2536.1 2225.7 2511.5 2226.4 2488.4 2227.1 2466.3 2227.8 2415.1 2228.5 2363.4 2229.1 2316.2 2229.8 2245.4 2230.5 2171.5 2231.2 2197.4 2231.9 2226.5 2232.6 2253.6 2233.3 2269.9 2234 2282.6 2234.7 2296.8 2235.4 2316.5 2236 2335.6 2236.7 2347.9 2237.4 2363.1 2238.1 2378.3 2238.8 2390.7 2239.5 2401.1 2240.2 2412.7 2240.9 2427 2241.6 2438.7 2242.3 2453.3 2242.9 2467.8 2243.6 2500.3 2244.3 2537.4 2245 2574.9 2245.7 2607.9 2246.4 2611.7 2247.1 2617.6 2247.8 2623.7 2248.5 2627 2249.2 2629.3 2249.8 2637.4 2250.5 2643.6 2251.2 2643.9 2251.9 2646.1 2252.6 2649.9 2253.3 2647.1 2254 2647 2254.7 2649 2255.4 2647.7 2256 2649.5 2256.7 2655.7 2257.4 2655.9 2258.1 2652.8 2258.8 2652.8 2259.5 2651.4 2260.2 2651.3 2260.9 2653.4 2261.6 2654 2262.3 2653.5 2262.9 2653.5 2263.6 2657.3 2264.3 2663.2 2265 2665.9 2265.7 2663.3 2266.4 2660.7 2267.1 2664.6 2267.8 2668 2268.5 2667.2 2269.2 2664.8 2269.8 2661.3 2270.5 2663.5 2271.2 2669.5 2271.9 2669.5 2272.6 2668.1 2273.3 2667.8 2274 2665 2274.7 2667.4 2275.4 2674.2 2276.1 2673.4 2276.7 2667.4 2277.4 2668.4 2278.1 2675.5 2278.8 2676.8 2279.5 2674.1 2280.2 2676 2280.9 2677.6 2281.6 2675 2282.3 2676.3 2283 2680.6 2283.6 2679.8 2284.3 2678.8 2285 2681.2 2285.7 2680.5 2286.4 2679.3 2287.1 2684.1 2287.8 2686.6 2288.5 2685.5 2289.2 2687.3 2289.9 2687.7 2290.5 2684.9 2291.2 2681.4 2291.9 2680.6 2292.6 2684.8 2293.3 2686.4 2294 2684.1 2294.7 2685.3 2295.4 2688.8 2296.1 2688 2296.8 2683.2 2297.4 2682.7 2298.1 2686.9 2298.8 2689.6 2299.5 2689.3 2300.2 2685.3 2300.9 2680.7 2301.6 2679.6 2302.3 2679.8 2303 2681.4 2303.6 2686.3 2304.3 2690.9 2305 2692.3 2305.7 2688.8 2306.4 2683.9 2307.1 2682.9 2307.8 2683.8 2308.5 2687.1 2309.2 2688.6 2309.9 2687.2 2310.5 2686.1 2311.2 2683.6 2311.9 2684.2 2312.6 2687 2313.3 2686.4 2314 2685.2 2314.7 2686.9 2315.4 2686.3 2316.1 2682.8 2316.8 2684.7 2317.4 2687.1 2318.1 2684.9 2318.8 2685.8 2319.5 2689 2320.2 2687.4 2320.9 2685.3 2321.6 2686 2322.3 2686.7 2323 2687.9 2323.7 2687.3 2324.3 2686.2 2325 2689.3 2325.7 2690.8 2326.4 2687.4 2327.1 2686.4 2327.8 2688.7 2328.5 2688.4 2329.2 2686.2 2329.9 2686.2 2330.6 2689.7 2331.2 2692.4 2331.9 2689.4 2332.6 2683.9 2333.3 2681.3 2334 2681.3 2334.7 2680.4 2335.4 2680.9 2336.1 2686.3 2336.8 2688.8 2337.5 2686.3 2338.1 2687.5 2338.8 2689.8 2339.5 2688 2340.2 2682.5 2340.9 2681.4 2341.6 2685.6 2342.3 2684.4 2343 2679.4 2343.7 2677.2 2344.4 2678.9 2345 2682.3 2345.7 2684.7 2346.4 2686.7 2347.1 2685.7 2347.8 2683.4" fill="none" stroke="#ef842b" stroke-width="9" stroke-linejoin="round" stroke-linecap="round" clip-path="url(#clp6)"/>
<polygon points="1718.8,2300.9 1984.8,2201.6 1982.5,2190.2 2052.1,2190.2 1997.4,2237 1992.8,2226.7 1726.8,2322.6" fill="#88e060"/>
<text transform="translate(1706 2263) rotate(-20.3)" font-size="49.5">Increasing angle</text>
<text x="1407.1" y="2072.5" font-size="59" fill="#f07070">Vamp bending</text>
<rect x="1382" y="1983" width="965.8" height="777.2" fill="none" stroke="#000" stroke-width="5.6"/>
<path d="M1382 2760.2V2746.4M1520 2760.2V2746.4M1657.9 2760.2V2746.4M1795.9 2760.2V2746.4M1933.9 2760.2V2746.4M2071.9 2760.2V2746.4M2209.8 2760.2V2746.4M2347.8 2760.2V2746.4M1382 2689.5H1395.8M1382 2477.6H1395.8M1382 2265.6H1395.8M1382 2053.7H1395.8M1382 2583.6H1389M1382 2371.6H1389M1382 2159.6H1389" stroke="#000" stroke-width="4.6" fill="none"/>
<text x="1382" y="2818.5" text-anchor="middle" font-size="55">0</text>
<text x="1520" y="2818.5" text-anchor="middle" font-size="55">20</text>
<text x="1657.9" y="2818.5" text-anchor="middle" font-size="55">40</text>
<text x="1795.9" y="2818.5" text-anchor="middle" font-size="55">60</text>
<text x="1933.9" y="2818.5" text-anchor="middle" font-size="55">80</text>
<text x="2071.9" y="2818.5" text-anchor="middle" font-size="55">100</text>
<text x="2209.8" y="2818.5" text-anchor="middle" font-size="55">120</text>
<text x="2347.8" y="2818.5" text-anchor="middle" font-size="55">140</text>
<text x="1363.3" y="2705.5" text-anchor="end" font-size="55">0</text>
<text x="1363.3" y="2493.5" text-anchor="end" font-size="55">15</text>
<text x="1363.3" y="2281.6" text-anchor="end" font-size="55">30</text>
<text x="1363.3" y="2069.6" text-anchor="end" font-size="55">45</text>
<text transform="translate(1288 2371) rotate(-90)" text-anchor="middle" font-size="55">&#916;<tspan font-style="italic">R</tspan><tspan font-style="italic">/R</tspan><tspan font-size="38.5" dy="12.1">0</tspan><tspan dy="-12.1"> (%)</tspan></text>
<text x="1864.9" y="2865.8" text-anchor="middle" font-size="55">Time (s)</text>
<text x="49" y="125" font-size="84">(a)</text>
<text x="1219.5" y="122.2" font-size="75">(b)</text>
<text x="38.6" y="1002.6" font-size="84">(c)</text>
<text x="1203" y="1003" font-size="84">(d)</text>
<text x="38.3" y="1951.9" font-size="84">(e)</text>
<text x="1240.8" y="1951.9" font-size="84">(f)</text>
</svg>
</body></html>
